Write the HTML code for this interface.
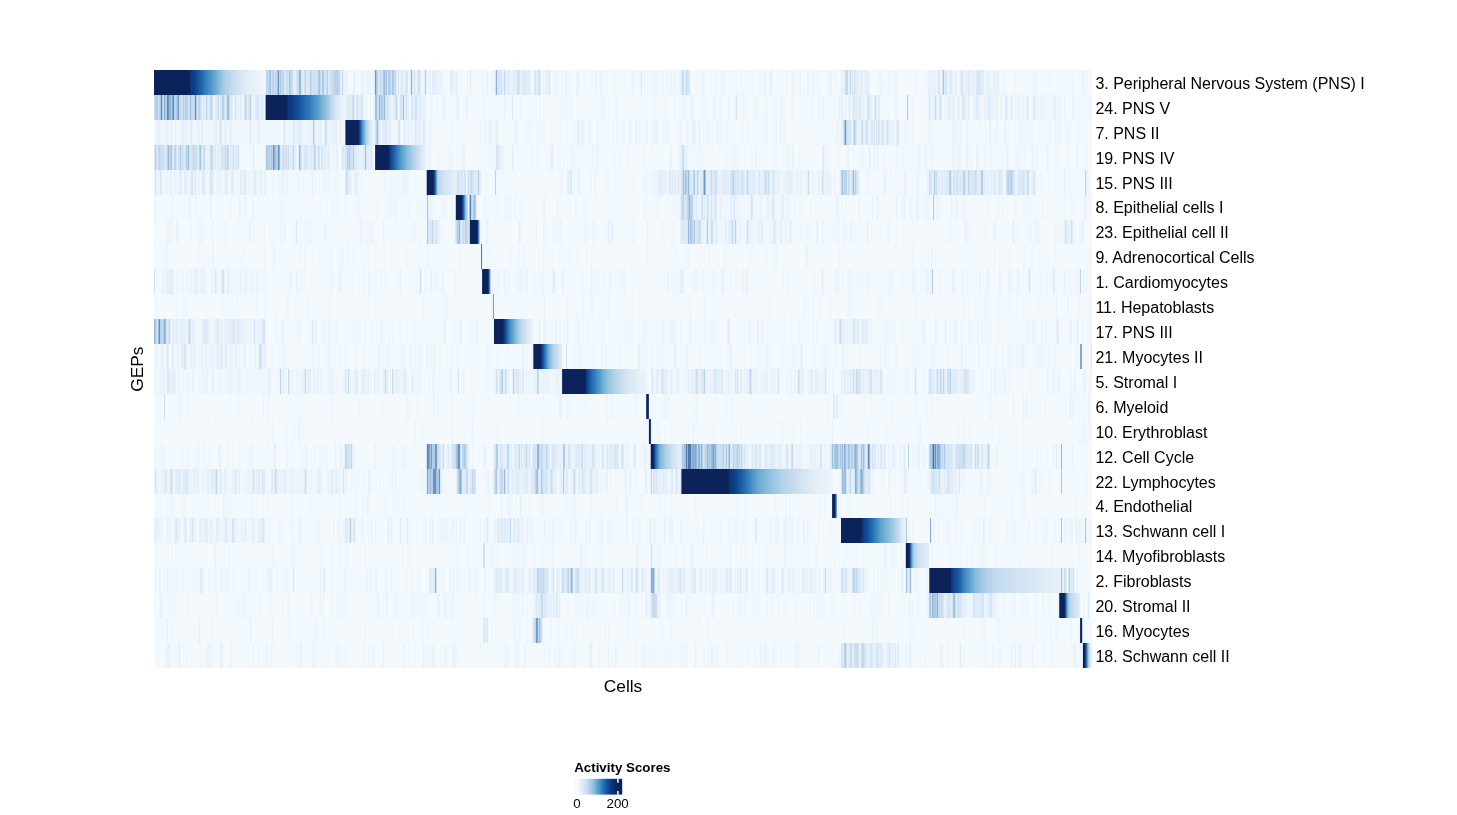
<!DOCTYPE html>
<html><head><meta charset="utf-8"><style>
html,body{margin:0;padding:0;background:#fff;width:1457px;height:815px;overflow:hidden}
svg{position:absolute;left:0;top:0;font-family:"Liberation Sans",sans-serif;will-change:transform}
</style></head><body>
<svg width="1457" height="815" viewBox="0 0 1457 815">
<g transform="translate(154 70)"><rect width="938" height="598" fill="#f4f9fe"/><g stroke-width="25"><path stroke="#eff6fc" stroke-dasharray="0 193 2 1 3 2 3 6 1 1 1 3 2 1 1 34 2 13 1 3 2 2 1 10 5 2 1 4 1 2 1 2 2 7 1 1 1 3 1 5 6 1 2 1 1 1 1 37 1 1 1 7 2 1 1 8 3 1 3 2 1 4 3 1 1 7 1 3 2 1 1 3 3 2 1 1 1 1 1 1 2 2 1 1 1 4 2 1 1 8 1 4 3 1 1 4 1 1 1 1 4 1 2 2 5 1 3 1 1 1 1 2 2 1 2 1 3 1 1 1 1 11 2 3 2 3 3 1 1 5 2 3 3 2 4 1 1 2 1 1 2 3 2 4 2 3 2 1 1 1 3 3 4 2 1 1 2 5 1 7 2 3 3 2 2 1 3 3 1 9 2 1 1 1 1 1 3 7 4 3 3 1 1 2 1 37 3 1 1 4 8 1 1 4 2 4 1 7 1 1 1 7 1 1 1 8 1 3 2 6 1 4 2 2 3 14 1 9 2 4 1 1 1 3 1 2 1 2 2 1 1 8 2 10 1 3 3 1 2 1 1 9 4 3 1 1 1 3 1 1 1 4 1 3 4 4 1 1 1 1 5 1 1 2000" d="M0 12.5h938"/><path stroke="#eaf3fb" stroke-dasharray="0 190 2 15 1 1 1 3 3 2 1 24 1 1 2 2 1 12 1 4 2 6 2 5 1 1 3 9 1 1 1 2 1 11 1 24 1 16 1 1 2 7 1 22 1 1 1 4 1 5 1 8 2 9 2 18 1 3 1 13 1 17 1 23 1 14 1 3 1 3 2 16 1 26 1 39 1 4 1 22 1 7 1 6 2 4 1 5 1 11 1 10 1 15 2 2 3 4 1 11 1 13 1 1 1 18 1 13 1 1 1 1 1 2 1 9 1 1 1 2 1 3 1 6 2 1 1 3 1 1 1 2 1 10 1 2 1 1 1 1 2 2 1 6 1 28 1 2 1 2000" d="M0 12.5h938"/><path stroke="#e6f0fa" stroke-dasharray="0 140 2 11 1 33 1 4 1 6 2 7 1 33 1 7 1 8 1 1 1 4 1 3 1 1 1 8 1 1 1 3 1 11 1 33 1 6 1 7 1 3 2 2 1 4 1 5 1 5 1 2 1 5 1 3 1 5 3 29 1 83 1 40 1 66 2 58 1 10 1 1 2 3 1 2 1 4 1 3 1 4 1 2 1 59 2 1 1 1 1 1 1 29 1 1 1 3 1 9 1 1 1 3 2 93 1 2000" d="M0 12.5h938"/><path stroke="#e1edf8" stroke-dasharray="0 149 1 36 1 2 1 58 1 29 3 21 1 13 1 32 1 1 1 8 1 1 1 8 1 2 1 155 1 164 1 3 1 12 2 76 1 6 1 3 1 4 1 8 1 3 1 21 1 2 1 2000" d="M0 12.5h938"/><path stroke="#dceaf6" stroke-dasharray="0 130 2 7 1 8 1 25 1 45 1 4 1 25 1 4 1 1 1 4 1 33 1 56 1 4 1 8 3 4 1 4 1 2 1 11 1 91 1 39 1 3 1 3 1 162 1 2 1 1 1 3 1 99 1 6 1 8 1 2 1 2000" d="M0 12.5h938"/><path stroke="#d8e7f5" stroke-dasharray="0 134 1 7 1 9 1 1 1 16 1 3 1 48 1 3 1 15 1 7 2 90 3 18 1 6 1 11 1 399 2 5 1 16 1 13 1 2 1 2 1 2000" d="M0 12.5h938"/><path stroke="#d4e4f4" stroke-dasharray="0 138 1 8 1 7 1 3 1 3 1 12 1 1 1 54 1 13 1 12 1 3 1 76 1 39 1 151 2 165 1 87 1 3 1 3 1 27 1 2000" d="M0 12.5h938"/><path stroke="#cfe1f2" stroke-dasharray="0 117 1 2 1 22 1 6 1 7 1 2 2 4 1 2 1 56 1 9 1 105 1 3 1 15 1 165 1 2000" d="M0 12.5h938"/><path stroke="#cadef0" stroke-dasharray="0 132 2 26 1 5 1 5 1 15 1 51 1 24 1 98 1 20 1 305 2 2000" d="M0 12.5h938"/><path stroke="#c4daee" stroke-dasharray="0 122 1 4 1 16 1 12 1 19 1 6 1 165 1 177 1 3 1 2000" d="M0 12.5h938"/><path stroke="#bfd7ed" stroke-dasharray="0 113 2 3 1 2 1 3 1 2 1 8 1 41 1 5 1 37 1 7 1 9 1 451 1 2 1 2000" d="M0 12.5h938"/><path stroke="#bad4eb" stroke-dasharray="0 112 1 16 1 6 1 14 1 28 3 43 1 9 1 2000" d="M0 12.5h938"/><path stroke="#b5d0e9" stroke-dasharray="0 119 1 36 1 12 1 3 1 60 1 36 1 2000" d="M0 12.5h938"/><path stroke="#afcce7" stroke-dasharray="0 115 1 10 1 56 1 51 1 3 1 2000" d="M0 12.5h938"/><path stroke="#aac8e4" stroke-dasharray="0 164 1 3 1 60 1 8 1 2000" d="M0 12.5h938"/><path stroke="#a5c5e2" stroke-dasharray="0 123 1 11 1 29 1 56 1 566 1 2000" d="M0 12.5h938"/><path stroke="#9fc1e0" stroke-dasharray="0 116 1 115 1 2000" d="M0 12.5h938"/><path stroke="#9abdde" stroke-dasharray="0 146 1 83 1 2000" d="M0 12.5h938"/><path stroke="#94b8db" stroke-dasharray="0 145 1 2000" d="M0 12.5h938"/><path stroke="#8fb3d8" stroke-dasharray="0 257 1 84 1 2000" d="M0 12.5h938"/><path stroke="#739ac7" stroke-dasharray="0 221 1 2000" d="M0 12.5h938"/><path stroke="#6e95c2" stroke-dasharray="0 124 1 2000" d="M0 12.5h938"/></g><linearGradient id="d0"><stop offset="0" stop-color="#0b225b"/><stop offset="0.01" stop-color="#0b225b"/><stop offset="0.03" stop-color="#0b225b"/><stop offset="0.04" stop-color="#0b225b"/><stop offset="0.05" stop-color="#0b225b"/><stop offset="0.07" stop-color="#0b225b"/><stop offset="0.08" stop-color="#0b225b"/><stop offset="0.09" stop-color="#0b225b"/><stop offset="0.11" stop-color="#0b225b"/><stop offset="0.12" stop-color="#0b225b"/><stop offset="0.13" stop-color="#0b225b"/><stop offset="0.15" stop-color="#0b225b"/><stop offset="0.16" stop-color="#0b225b"/><stop offset="0.17" stop-color="#0b225b"/><stop offset="0.19" stop-color="#0b225b"/><stop offset="0.2" stop-color="#0b225b"/><stop offset="0.21" stop-color="#0b225b"/><stop offset="0.23" stop-color="#0b225b"/><stop offset="0.24" stop-color="#0b225b"/><stop offset="0.25" stop-color="#0b225b"/><stop offset="0.27" stop-color="#0b225b"/><stop offset="0.28" stop-color="#0b225b"/><stop offset="0.29" stop-color="#0b225b"/><stop offset="0.31" stop-color="#0b225b"/><stop offset="0.32" stop-color="#0b225b"/><stop offset="0.33" stop-color="#0c387f"/><stop offset="0.35" stop-color="#0c3a82"/><stop offset="0.36" stop-color="#0d3c85"/><stop offset="0.37" stop-color="#0f448f"/><stop offset="0.39" stop-color="#144d98"/><stop offset="0.4" stop-color="#1856a0"/><stop offset="0.41" stop-color="#1c5da7"/><stop offset="0.43" stop-color="#2266ad"/><stop offset="0.44" stop-color="#296fb3"/><stop offset="0.45" stop-color="#2f78b9"/><stop offset="0.47" stop-color="#3580be"/><stop offset="0.48" stop-color="#3c86c1"/><stop offset="0.49" stop-color="#448dc4"/><stop offset="0.51" stop-color="#4c93c7"/><stop offset="0.52" stop-color="#549aca"/><stop offset="0.53" stop-color="#5ca1cd"/><stop offset="0.55" stop-color="#67a7d1"/><stop offset="0.56" stop-color="#72aed4"/><stop offset="0.57" stop-color="#7db5d8"/><stop offset="0.59" stop-color="#88bcdc"/><stop offset="0.6" stop-color="#92c2df"/><stop offset="0.61" stop-color="#9cc6e2"/><stop offset="0.63" stop-color="#a5cbe5"/><stop offset="0.64" stop-color="#adcfe7"/><stop offset="0.65" stop-color="#b3d2e9"/><stop offset="0.67" stop-color="#b8d4eb"/><stop offset="0.68" stop-color="#bcd7ec"/><stop offset="0.69" stop-color="#c0d9ed"/><stop offset="0.71" stop-color="#c4dbef"/><stop offset="0.72" stop-color="#c8ddf0"/><stop offset="0.73" stop-color="#ccdff1"/><stop offset="0.75" stop-color="#d0e2f2"/><stop offset="0.76" stop-color="#d3e4f3"/><stop offset="0.77" stop-color="#d6e5f4"/><stop offset="0.79" stop-color="#d8e7f5"/><stop offset="0.8" stop-color="#dbe9f6"/><stop offset="0.81" stop-color="#ddeaf6"/><stop offset="0.83" stop-color="#e0ecf7"/><stop offset="0.84" stop-color="#e3eef8"/><stop offset="0.85" stop-color="#e4eff8"/><stop offset="0.87" stop-color="#e5eff9"/><stop offset="0.88" stop-color="#e6f0f9"/><stop offset="0.89" stop-color="#e7f1f9"/><stop offset="0.91" stop-color="#e8f1fa"/><stop offset="0.92" stop-color="#e9f2fa"/><stop offset="0.93" stop-color="#eaf3fa"/><stop offset="0.95" stop-color="#ecf3fb"/><stop offset="0.96" stop-color="#edf4fb"/><stop offset="0.97" stop-color="#eff5fc"/><stop offset="0.99" stop-color="#f1f7fd"/><stop offset="1" stop-color="#f3f8fd"/></linearGradient><rect x="0" y="0" width="111.6" height="25" fill="url(#d0)"/><g stroke-width="25"><path stroke="#eff6fc" stroke-dasharray="0 79 1 8 1 21 2 98 4 2 1 2 1 24 1 10 2 15 1 3 3 4 1 3 1 3 1 2 1 1 1 2 2 1 1 2 1 3 1 1 1 1 2 5 1 9 1 4 1 2 3 2 3 3 1 1 1 3 1 1 1 1 1 1 1 3 3 17 2 2 2 2 1 6 2 4 8 1 4 5 1 6 1 3 1 4 2 4 3 5 2 4 4 6 1 7 1 8 1 2 1 2 1 4 1 1 2 4 1 4 3 5 2 4 2 1 1 1 3 3 1 1 3 5 3 2 2 1 2 2 1 1 1 1 1 1 2 1 2 4 1 2 2 1 2 4 1 1 1 1 2 1 1 6 3 1 3 3 1 1 1 1 1 4 2 1 1 4 1 1 1 1 1 7 1 11 1 5 1 1 1 1 1 2 5 2 2 1 1 3 1 1 6 1 1 2 2 1 1 18 1 6 2 6 1 3 1 1 4 4 1 1 2 8 1 1 1 1 1 4 1 7 1 8 1 9 1 1 1 1 1 4 1 2 3 3 2 4 1 6 1 7 1 1 1 2 1 7 1 3 1 1 1 1 1 1 1 3 2 3 5 2 2 2 2 3 1 2 1 3 1 1 3 1 1 1 1 1 3 1 2 5 2 1 2 3 1 8 1 2 3 5 1 3 1 1 1 2000" d="M0 37.5h938"/><path stroke="#eaf3fb" stroke-dasharray="0 60 1 19 1 2 2 4 1 8 3 8 1 91 1 7 1 27 2 6 1 19 1 1 2 2 1 16 3 13 1 7 1 16 1 20 1 31 1 66 1 79 1 29 1 1 1 4 1 7 2 5 1 1 1 4 1 13 1 9 1 7 1 6 1 9 1 1 1 17 1 11 1 17 2 2 1 2 1 1 1 1 1 5 1 3 1 1 1 1 1 4 1 23 1 16 1 15 1 1 2 1 1 3 2 6 1 1 1 2 1 1 1 14 1 1 1 2 1 6 2 3 1 2 1 4 2 1 3 9 1 2 1 7 1 3 2 2 1 1 1 6 1 1 1 5 1 1 1 3 1 2 3 1 1 7 1 7 2 16 1 2000" d="M0 37.5h938"/><path stroke="#e6f0fa" stroke-dasharray="0 48 1 1 1 20 1 13 1 1 1 17 1 1 1 83 2 1 1 5 1 4 1 14 1 15 1 2 1 11 1 7 1 3 2 4 2 32 1 233 1 147 1 14 1 1 1 4 1 1 1 6 1 5 3 55 1 1 1 11 1 8 3 5 1 8 2 1 1 7 1 3 1 1 1 9 1 3 1 6 1 6 1 21 1 13 1 3 1 2000" d="M0 37.5h938"/><path stroke="#e1edf8" stroke-dasharray="0 54 1 4 1 1 1 3 1 10 1 1 1 3 1 10 1 3 1 8 1 89 2 6 1 30 1 17 2 2 1 2 1 97 1 336 1 5 1 23 1 59 1 1 1 7 1 13 1 4 1 9 1 11 1 20 1 21 1 2000" d="M0 37.5h938"/><path stroke="#dceaf6" stroke-dasharray="0 49 1 1 1 1 1 8 1 4 1 18 1 14 1 1 1 4 1 93 1 3 1 27 1 5 1 2 1 6 1 15 1 436 1 1 2 6 1 1 1 4 1 78 1 8 1 13 1 2000" d="M0 37.5h938"/><path stroke="#d8e7f5" stroke-dasharray="0 47 1 7 1 2 1 4 1 2 1 10 1 12 1 3 1 7 1 1 1 88 1 1 1 11 2 23 1 8 1 5 1 527 1 34 1 23 1 17 1 20 1 6 1 2000" d="M0 37.5h938"/><path stroke="#d4e4f4" stroke-dasharray="0 27 1 7 1 7 1 26 1 152 1 9 1 14 1 13 1 319 1 2000" d="M0 37.5h938"/><path stroke="#cfe1f2" stroke-dasharray="0 4 1 4 1 24 1 37 1 8 1 10 1 2 1 102 1 4 1 42 1 5 1 5 1 2 1 437 1 21 1 64 1 2000" d="M0 37.5h938"/><path stroke="#cadef0" stroke-dasharray="0 0 1 27 1 1 1 6 2 7 1 17 1 166 1 482 1 66 1 2000" d="M0 37.5h938"/><path stroke="#c4daee" stroke-dasharray="0 21 1 4 1 29 1 142 1 24 1 2000" d="M0 37.5h938"/><path stroke="#bfd7ed" stroke-dasharray="0 25 1 13 2 3 1 7 1 22 1 15 1 137 1 12 1 2000" d="M0 37.5h938"/><path stroke="#bad4eb" stroke-dasharray="0 1 1 3 1 27 1 11 1 11 1 11 1 26 1 129 1 2000" d="M0 37.5h938"/><path stroke="#b5d0e9" stroke-dasharray="0 12 1 7 1 1 1 6 1 1 2 9 1 25 1 2000" d="M0 37.5h938"/><path stroke="#afcce7" stroke-dasharray="0 2 2 4 1 2 1 5 1 209 2 524 1 2000" d="M0 37.5h938"/><path stroke="#aac8e4" stroke-dasharray="0 74 1 2000" d="M0 37.5h938"/><path stroke="#a5c5e2" stroke-dasharray="0 6 1 214 1 27 1 2000" d="M0 37.5h938"/><path stroke="#9fc1e0" stroke-dasharray="0 222 1 7 1 2000" d="M0 37.5h938"/><path stroke="#9abdde" stroke-dasharray="0 15 1 57 1 2000" d="M0 37.5h938"/><path stroke="#94b8db" stroke-dasharray="0 23 1 201 1 2000" d="M0 37.5h938"/><path stroke="#8fb3d8" stroke-dasharray="0 16 1 19 1 2000" d="M0 37.5h938"/><path stroke="#83a9d2" stroke-dasharray="0 10 1 7 1 2000" d="M0 37.5h938"/><path stroke="#7ea4cf" stroke-dasharray="0 24 1 2000" d="M0 37.5h938"/><path stroke="#6e95c2" stroke-dasharray="0 14 1 2000" d="M0 37.5h938"/><path stroke="#6990be" stroke-dasharray="0 19 1 2000" d="M0 37.5h938"/><path stroke="#648ab9" stroke-dasharray="0 7 1 33 1 2000" d="M0 37.5h938"/><path stroke="#5f85b4" stroke-dasharray="0 13 1 2000" d="M0 37.5h938"/></g><linearGradient id="d1"><stop offset="0" stop-color="#0b225b"/><stop offset="0.02" stop-color="#0b225b"/><stop offset="0.04" stop-color="#0b225b"/><stop offset="0.06" stop-color="#0b225b"/><stop offset="0.07" stop-color="#0b225b"/><stop offset="0.09" stop-color="#0b225b"/><stop offset="0.11" stop-color="#0b225b"/><stop offset="0.13" stop-color="#0b225b"/><stop offset="0.15" stop-color="#0b225b"/><stop offset="0.17" stop-color="#0b225b"/><stop offset="0.19" stop-color="#0b225b"/><stop offset="0.2" stop-color="#0b225b"/><stop offset="0.22" stop-color="#0b225b"/><stop offset="0.24" stop-color="#0b225b"/><stop offset="0.26" stop-color="#0b225b"/><stop offset="0.28" stop-color="#0c377d"/><stop offset="0.3" stop-color="#0c3980"/><stop offset="0.31" stop-color="#0d3b84"/><stop offset="0.33" stop-color="#0d3e88"/><stop offset="0.35" stop-color="#0f438d"/><stop offset="0.37" stop-color="#114892"/><stop offset="0.39" stop-color="#134d97"/><stop offset="0.41" stop-color="#16529c"/><stop offset="0.43" stop-color="#1857a1"/><stop offset="0.44" stop-color="#1a5ba5"/><stop offset="0.46" stop-color="#1e60a9"/><stop offset="0.48" stop-color="#2266ac"/><stop offset="0.5" stop-color="#266cb0"/><stop offset="0.52" stop-color="#2a71b4"/><stop offset="0.54" stop-color="#2e77b8"/><stop offset="0.56" stop-color="#337dbc"/><stop offset="0.57" stop-color="#3883bf"/><stop offset="0.59" stop-color="#3f89c2"/><stop offset="0.61" stop-color="#478fc5"/><stop offset="0.63" stop-color="#4e95c8"/><stop offset="0.65" stop-color="#569bcb"/><stop offset="0.67" stop-color="#5ea2ce"/><stop offset="0.69" stop-color="#68a8d1"/><stop offset="0.7" stop-color="#72aed4"/><stop offset="0.72" stop-color="#7db5d8"/><stop offset="0.74" stop-color="#87bbdb"/><stop offset="0.76" stop-color="#92c1df"/><stop offset="0.78" stop-color="#9ec8e3"/><stop offset="0.8" stop-color="#aacee7"/><stop offset="0.81" stop-color="#b6d4ea"/><stop offset="0.83" stop-color="#bed8ed"/><stop offset="0.85" stop-color="#c8ddf0"/><stop offset="0.87" stop-color="#d1e2f3"/><stop offset="0.89" stop-color="#d8e7f5"/><stop offset="0.91" stop-color="#dceaf6"/><stop offset="0.93" stop-color="#e0ecf7"/><stop offset="0.94" stop-color="#e4eff8"/><stop offset="0.96" stop-color="#e7f1f9"/><stop offset="0.98" stop-color="#ebf3fb"/><stop offset="1" stop-color="#f0f6fc"/></linearGradient><rect x="111.6" y="25" width="79.8" height="25" fill="url(#d1)"/><g stroke-width="25"><path stroke="#eff6fc" stroke-dasharray="0 1 1 4 1 1 2 4 2 2 1 1 1 1 3 1 1 7 2 3 4 3 1 2 5 1 4 1 1 3 1 3 2 3 2 3 2 1 7 1 6 3 5 2 1 1 5 2 1 1 6 1 4 1 1 3 4 1 2 10 5 2 1 5 1 6 1 4 1 1 1 3 1 2 1 1 1 1 2 1 1 47 2 1 2 4 2 3 1 2 1 1 1 1 1 11 2 1 3 1 2 3 1 5 2 2 1 3 2 3 2 1 3 3 1 3 2 8 2 1 3 1 3 2 2 5 2 2 2 1 1 2 1 5 1 1 1 1 1 1 1 3 7 1 2 2 6 1 3 3 1 1 1 2 2 4 3 4 1 2 2 1 2 1 1 3 1 1 1 1 1 3 1 1 2 4 1 1 2 2 1 3 3 4 2 1 1 1 1 1 2 1 1 7 1 5 4 3 3 4 2 1 1 8 4 1 1 6 1 2 2 1 2 3 1 1 2 5 1 2 1 1 1 2 3 1 1 1 1 1 2 2 2 2 1 1 3 2 3 10 1 2 2 2 1 1 2 4 2 9 1 1 1 5 1 1 1 1 1 1 1 1 1 1 2 8 1 2 1 8 1 2 1 3 2 1 2 2 2 3 1 5 1 1 2 1 1 1 1 1 3 16 1 35 2 7 1 1 3 2 1 1 2 6 1 2 1 3 2 1 1 1 2 3 1 2 2 3 2 1 1 2 1 2 2 1 1 1 1 1 1 8 2 5 1 1 2 3 3 1 1 2 1 3 1 1 2 3 1 1 1 1 1 1 1 2 1 2 2 2 1 2 1 1 2 1 2 1 4 1 1 3 3 2 2 2 6 1 1 1 1 1 1 5 4 3 1 5 2 2 3 1 2 3 1 2000" d="M0 62.5h938"/><path stroke="#eaf3fb" stroke-dasharray="0 2 2 1 1 4 3 3 1 10 2 1 1 1 2 2 1 1 1 4 1 1 1 1 1 6 1 8 1 6 1 1 1 2 1 1 1 2 1 16 1 5 1 9 1 8 1 13 1 11 1 5 2 1 1 9 1 5 1 1 1 2 1 48 1 12 1 2 1 2 1 2 1 3 1 2 1 3 1 3 1 1 3 8 1 49 1 13 1 21 1 24 1 34 1 1 1 9 1 7 1 19 1 4 1 1 1 4 2 4 1 11 1 5 1 1 3 9 1 24 2 12 1 1 1 9 1 1 1 45 1 9 1 3 1 4 1 50 1 1 1 18 1 6 1 4 2 9 1 3 1 4 2 1 2 5 1 4 1 47 2 2 1 3 1 6 1 21 1 6 1 8 1 14 1 4 1 2 1 26 1 3 1 8 1 2000" d="M0 62.5h938"/><path stroke="#e6f0fa" stroke-dasharray="0 4 1 2 1 5 1 3 1 3 1 7 1 1 1 27 1 1 2 2 1 1 1 8 1 18 1 10 1 24 1 8 4 1 1 1 1 13 1 1 3 11 1 1 1 6 1 39 1 1 1 1 1 4 1 1 1 12 2 2 1 3 1 3 1 68 1 4 1 5 2 17 1 65 1 1 1 52 1 43 1 6 1 11 1 17 1 134 1 6 2 2 1 4 1 4 1 1 1 9 1 5 1 4 1 32 1 60 1 28 1 2 1 2000" d="M0 62.5h938"/><path stroke="#e1edf8" stroke-dasharray="0 44 1 26 1 24 1 7 1 24 2 27 1 22 2 42 1 6 3 1 1 26 1 1 1 4 1 64 1 204 1 147 1 8 1 25 1 3 1 4 1 1 1 9 1 2000" d="M0 62.5h938"/><path stroke="#dceaf6" stroke-dasharray="0 48 1 90 1 4 1 1 1 19 1 3 1 58 1 39 1 154 1 286 1 5 2 10 1 2000" d="M0 62.5h938"/><path stroke="#d8e7f5" stroke-dasharray="0 37 1 122 1 10 1 72 1 16 1 434 1 5 1 10 1 6 1 1 1 2 1 2000" d="M0 62.5h938"/><path stroke="#d4e4f4" stroke-dasharray="0 231 1 13 1 443 1 3 3 3 1 7 1 4 1 11 1 18 1 2000" d="M0 62.5h938"/><path stroke="#cfe1f2" stroke-dasharray="0 66 1 157 1 503 1 2000" d="M0 62.5h938"/><path stroke="#cadef0" stroke-dasharray="0 172 1 48 1 486 1 24 1 2000" d="M0 62.5h938"/><path stroke="#c4daee" stroke-dasharray="0 701 1 2000" d="M0 62.5h938"/><path stroke="#bfd7ed" stroke-dasharray="0 692 1 2000" d="M0 62.5h938"/><path stroke="#bad4eb" stroke-dasharray="0 222 1 2000" d="M0 62.5h938"/><path stroke="#b5d0e9" stroke-dasharray="0 159 1 2000" d="M0 62.5h938"/><path stroke="#afcce7" stroke-dasharray="0 700 1 2000" d="M0 62.5h938"/><path stroke="#aac8e4" stroke-dasharray="0 690 1 2000" d="M0 62.5h938"/><path stroke="#9abdde" stroke-dasharray="0 223 1 2000" d="M0 62.5h938"/><path stroke="#739ac7" stroke-dasharray="0 691 1 2000" d="M0 62.5h938"/></g><linearGradient id="d2"><stop offset="0" stop-color="#0b225b"/><stop offset="0.05" stop-color="#0b225b"/><stop offset="0.1" stop-color="#0b225b"/><stop offset="0.15" stop-color="#0b225b"/><stop offset="0.2" stop-color="#0b225b"/><stop offset="0.25" stop-color="#0b225b"/><stop offset="0.3" stop-color="#0b225b"/><stop offset="0.35" stop-color="#0b225b"/><stop offset="0.4" stop-color="#0b225b"/><stop offset="0.45" stop-color="#0b2b6a"/><stop offset="0.5" stop-color="#15519b"/><stop offset="0.55" stop-color="#3782bf"/><stop offset="0.6" stop-color="#5da1cd"/><stop offset="0.65" stop-color="#83b9da"/><stop offset="0.7" stop-color="#a8cce6"/><stop offset="0.75" stop-color="#c3daee"/><stop offset="0.8" stop-color="#d1e2f3"/><stop offset="0.85" stop-color="#dceaf6"/><stop offset="0.9" stop-color="#e7f0f9"/><stop offset="0.95" stop-color="#eaf2fa"/><stop offset="1" stop-color="#eef5fc"/></linearGradient><rect x="191.4" y="50" width="29.7" height="25" fill="url(#d2)"/><g stroke-width="25"><path stroke="#eff6fc" stroke-dasharray="0 85 1 5 1 4 1 1 1 1 1 1 1 1 1 1 2 68 3 1 2 2 1 88 2 2 1 4 3 4 1 4 2 1 2 3 1 3 3 7 1 2 1 10 1 3 2 1 5 6 1 3 1 3 2 5 2 7 1 1 1 2 3 2 2 9 1 1 2 2 1 1 1 1 4 2 2 2 1 2 3 1 5 2 2 5 1 2 2 1 3 1 2 5 1 7 2 3 5 3 4 13 3 6 2 15 1 1 2 4 2 9 1 2 2 1 2 1 8 2 1 5 1 5 1 5 1 1 1 1 2 1 2 1 5 4 2 3 4 2 1 1 1 1 1 1 1 10 3 1 1 6 1 1 1 1 1 1 1 1 1 1 1 4 2 6 1 1 1 8 1 7 1 4 1 4 1 2 3 4 2 5 3 1 1 2 5 1 1 2 1 1 1 2 1 1 2 1 1 2 1 1 4 2 1 1 1 3 2 5 3 3 1 1 1 1 1 2 1 1 1 1 1 4 1 2 1 1 3 20 1 1 3 3 2 1 1 2 1 1 1 1 3 5 2 10 2 1 1 4 1 2 3 1 1 2 2 4 3 1 6 1 1 4 2 1 5 3 1 4 1 1 2 3 3 1 2 8 2 7 1 1 1 6 3 3 1 2000" d="M0 87.5h938"/><path stroke="#eaf3fb" stroke-dasharray="0 52 1 9 1 79 1 11 1 11 1 2 1 2 1 2 1 11 1 15 1 4 1 6 1 2 1 56 2 19 1 13 1 36 1 1 1 9 1 24 1 34 1 19 1 85 2 4 1 1 1 46 1 21 1 31 1 33 1 1 1 1 2 19 2 25 1 22 1 27 2 5 1 24 3 16 2 6 1 21 2 16 1 2000" d="M0 87.5h938"/><path stroke="#e6f0fa" stroke-dasharray="0 53 3 7 1 1 2 10 1 2 2 17 1 11 1 29 1 6 2 5 1 15 1 1 1 5 1 2 2 6 1 14 3 5 1 2 1 92 1 34 1 1 1 50 1 45 1 72 1 13 1 1 1 105 1 76 1 7 1 40 1 34 1 13 1 49 1 14 1 14 1 29 1 2000" d="M0 87.5h938"/><path stroke="#e1edf8" stroke-dasharray="0 3 1 19 1 24 1 2 1 7 2 14 2 1 1 48 1 7 3 2 1 3 1 11 1 1 2 2 2 38 1 1 1 4 1 135 1 12 1 39 1 2000" d="M0 87.5h938"/><path stroke="#dceaf6" stroke-dasharray="0 0 1 11 1 6 1 10 1 5 1 6 2 16 1 2 1 4 2 1 1 10 1 46 1 7 1 8 1 4 1 4 1 9 1 2 1 3 1 14 1 10 2 12 1 312 1 2000" d="M0 87.5h938"/><path stroke="#d8e7f5" stroke-dasharray="0 10 2 6 1 8 1 1 1 17 1 19 1 14 1 1 1 41 1 1 1 4 1 16 2 1 1 14 1 23 1 17 1 131 1 185 1 140 1 2000" d="M0 87.5h938"/><path stroke="#d4e4f4" stroke-dasharray="0 22 1 1 1 6 1 5 1 3 1 90 1 32 1 22 1 2 1 5 1 14 1 4 1 2000" d="M0 87.5h938"/><path stroke="#cfe1f2" stroke-dasharray="0 8 1 26 1 2 1 17 1 11 1 92 1 2 1 33 1 144 1 2000" d="M0 87.5h938"/><path stroke="#cadef0" stroke-dasharray="0 2 1 3 2 1 1 15 1 14 1 8 2 7 1 15 1 4 1 51 1 2 1 2000" d="M0 87.5h938"/><path stroke="#c4daee" stroke-dasharray="0 4 1 10 1 4 1 7 1 13 1 86 1 64 1 334 1 2000" d="M0 87.5h938"/><path stroke="#bfd7ed" stroke-dasharray="0 5 1 27 1 37 1 42 1 1 1 22 1 56 1 2000" d="M0 87.5h938"/><path stroke="#bad4eb" stroke-dasharray="0 1 1 14 1 22 1 5 1 11 1 15 1 44 1 3 1 23 1 48 1 2000" d="M0 87.5h938"/><path stroke="#b5d0e9" stroke-dasharray="0 13 1 7 1 10 1 127 1 32 1 5 1 2000" d="M0 87.5h938"/><path stroke="#afcce7" stroke-dasharray="0 26 1 86 1 1 1 7 1 2000" d="M0 87.5h938"/><path stroke="#aac8e4" stroke-dasharray="0 112 1 4 1 2000" d="M0 87.5h938"/><path stroke="#a5c5e2" stroke-dasharray="0 17 1 28 1 74 1 89 1 2000" d="M0 87.5h938"/><path stroke="#9abdde" stroke-dasharray="0 34 1 110 1 2000" d="M0 87.5h938"/><path stroke="#94b8db" stroke-dasharray="0 14 1 2000" d="M0 87.5h938"/><path stroke="#8fb3d8" stroke-dasharray="0 120 1 4 1 2000" d="M0 87.5h938"/><path stroke="#6e95c2" stroke-dasharray="0 119 1 4 1 2000" d="M0 87.5h938"/></g><linearGradient id="d3"><stop offset="0" stop-color="#0b225b"/><stop offset="0.03" stop-color="#0b225b"/><stop offset="0.06" stop-color="#0b225b"/><stop offset="0.09" stop-color="#0b225b"/><stop offset="0.11" stop-color="#0b225b"/><stop offset="0.14" stop-color="#0b225b"/><stop offset="0.17" stop-color="#0b225b"/><stop offset="0.2" stop-color="#0b225b"/><stop offset="0.23" stop-color="#0b225b"/><stop offset="0.26" stop-color="#0b2662"/><stop offset="0.29" stop-color="#0c377e"/><stop offset="0.31" stop-color="#124a94"/><stop offset="0.34" stop-color="#17549f"/><stop offset="0.37" stop-color="#1e61a9"/><stop offset="0.4" stop-color="#296fb3"/><stop offset="0.43" stop-color="#337ebc"/><stop offset="0.46" stop-color="#418ac3"/><stop offset="0.49" stop-color="#4d95c8"/><stop offset="0.51" stop-color="#579dcc"/><stop offset="0.54" stop-color="#63a5d0"/><stop offset="0.57" stop-color="#70add4"/><stop offset="0.6" stop-color="#7db5d8"/><stop offset="0.63" stop-color="#89bddc"/><stop offset="0.66" stop-color="#94c2df"/><stop offset="0.69" stop-color="#9dc7e2"/><stop offset="0.71" stop-color="#a7cce5"/><stop offset="0.74" stop-color="#b0d1e8"/><stop offset="0.77" stop-color="#b9d5eb"/><stop offset="0.8" stop-color="#c1d9ee"/><stop offset="0.83" stop-color="#c8ddf0"/><stop offset="0.86" stop-color="#d0e2f2"/><stop offset="0.89" stop-color="#d6e5f4"/><stop offset="0.91" stop-color="#dbe9f6"/><stop offset="0.94" stop-color="#e1ecf7"/><stop offset="0.97" stop-color="#e6f0f9"/><stop offset="1" stop-color="#eaf2fa"/></linearGradient><rect x="221.1" y="75" width="51.5" height="25" fill="url(#d3)"/><g stroke-width="25"><path stroke="#eff6fc" stroke-dasharray="0 3 1 4 4 2 1 3 2 2 1 1 1 3 2 4 1 8 1 2 2 4 3 5 1 7 2 4 3 3 6 7 2 1 2 5 3 2 2 2 1 2 1 1 2 1 1 2 5 2 2 1 1 2 1 1 3 1 3 4 2 4 1 1 1 1 1 1 2 2 1 4 2 2 1 1 1 1 5 1 2 4 1 7 2 4 2 1 2 1 2 9 1 7 4 3 1 1 1 1 2 1 6 1 1 1 3 5 2 4 1 60 1 3 4 2 1 2 1 1 3 1 1 2 1 2 3 1 2 2 2 9 1 8 1 3 2 13 1 6 1 1 1 1 1 1 1 5 3 2 1 2 1 1 1 7 2 2 1 8 1 1 4 1 1 4 1 2 1 3 1 6 1 3 2 7 6 1 4 2 2 10 1 112 4 1 1 8 1 3 1 3 4 4 2 2 4 2 1 5 1 1 1 2 1 1 1 1 1 3 1 25 1 1 1 3 1 1 1 8 2 2 1 8 1 3 1 1 2 9 1 2 2 1 2 1 2 3 1 76 2 35 3 5 1 1 1 2 3 2 2 3 1 1 1 2 3 1 2 2 1 1 1 2 2 5 2 2000" d="M0 112.5h938"/><path stroke="#eaf3fb" stroke-dasharray="0 0 1 4 1 6 2 1 1 1 1 3 1 1 1 1 1 1 1 3 1 1 1 1 2 2 1 2 1 1 1 5 1 4 1 6 4 1 1 3 1 1 1 15 1 2 1 2 1 2 2 2 1 7 1 8 1 9 1 15 1 23 1 2 1 2 1 7 1 13 1 2 1 2 1 33 1 11 1 62 1 94 1 7 1 8 1 16 1 18 1 38 2 3 1 2 1 3 2 1 1 4 1 2 1 3 1 37 2 1 1 5 1 28 2 12 1 5 2 1 1 4 1 3 1 3 2 1 2 2 3 4 1 5 2 7 1 2 2 3 2 3 1 24 1 8 1 15 2 5 1 12 3 10 1 9 2 14 1 45 2 1 1 3 1 8 1 9 3 11 3 55 1 2000" d="M0 112.5h938"/><path stroke="#e6f0fa" stroke-dasharray="0 2 1 1 1 11 1 3 1 19 1 4 1 5 1 6 1 7 1 3 1 6 1 10 1 11 1 6 1 20 1 3 1 25 1 32 1 2 1 1 1 4 1 100 1 10 1 8 1 90 1 11 1 77 1 5 2 6 1 5 1 1 1 19 1 7 1 12 1 1 1 5 2 15 1 5 1 3 1 2 1 1 1 1 1 8 1 3 1 2 1 7 2 2 1 6 1 9 1 1 1 8 2 112 1 5 3 11 1 26 1 5 4 6 1 1 2 27 1 5 1 2 1 28 1 21 1 2000" d="M0 112.5h938"/><path stroke="#e1edf8" stroke-dasharray="0 7 1 22 1 1 1 26 1 18 2 6 2 18 1 4 1 83 1 6 1 48 1 49 1 3 1 3 1 10 1 4 2 87 1 90 1 2 1 6 1 2 1 1 2 19 2 4 1 6 2 3 1 3 1 5 3 13 1 4 1 4 1 2 1 1 1 6 1 1 1 5 1 2 1 1 1 16 1 58 1 7 1 78 1 3 1 2 2 9 1 5 1 4 2 2 1 6 1 6 1 6 1 1 1 7 2 17 1 4 1 2000" d="M0 112.5h938"/><path stroke="#dceaf6" stroke-dasharray="0 26 1 14 1 6 1 23 1 17 2 9 1 206 1 6 1 100 2 88 1 9 1 7 1 11 2 8 1 1 1 7 1 1 1 13 1 9 1 3 2 1 1 6 1 2 1 35 1 33 1 3 1 12 1 6 1 85 1 8 1 3 3 9 2 2 1 9 1 5 1 1 1 2 1 16 1 17 1 2 1 2 1 8 2 2000" d="M0 112.5h938"/><path stroke="#d8e7f5" stroke-dasharray="0 1 1 4 1 30 2 10 1 6 1 249 2 13 1 1 1 214 1 13 1 8 1 14 1 3 1 2 1 8 1 1 1 10 1 4 1 1 2 5 1 77 1 5 1 73 1 19 1 1 1 6 1 4 1 8 1 19 1 11 1 7 1 7 1 2000" d="M0 112.5h938"/><path stroke="#d4e4f4" stroke-dasharray="0 57 1 245 1 6 2 6 2 208 1 15 1 32 1 3 1 2 1 117 1 73 1 23 1 1 2 13 1 1 1 25 1 13 1 5 1 2000" d="M0 112.5h938"/><path stroke="#cfe1f2" stroke-dasharray="0 193 1 333 1 32 1 107 1 26 1 4 1 74 1 5 1 40 1 46 1 4 1 2000" d="M0 112.5h938"/><path stroke="#cadef0" stroke-dasharray="0 192 1 111 1 9 1 1 1 218 1 26 1 15 1 9 1 25 1 39 1 43 1 83 1 38 1 2000" d="M0 112.5h938"/><path stroke="#c4daee" stroke-dasharray="0 317 1 212 1 2 1 5 1 17 1 35 1 17 1 75 1 1 1 4 1 119 2 39 1 2 1 14 1 2000" d="M0 112.5h938"/><path stroke="#bfd7ed" stroke-dasharray="0 795 1 57 1 2 1 2000" d="M0 112.5h938"/><path stroke="#bad4eb" stroke-dasharray="0 341 1 348 3 8 1 107 2 43 1 76 1 2000" d="M0 112.5h938"/><path stroke="#b5d0e9" stroke-dasharray="0 532 1 10 1 35 1 200 1 47 1 28 1 2000" d="M0 112.5h938"/><path stroke="#afcce7" stroke-dasharray="0 324 1 226 1 244 1 30 1 2000" d="M0 112.5h938"/><path stroke="#aac8e4" stroke-dasharray="0 540 1 8 1 2000" d="M0 112.5h938"/><path stroke="#a5c5e2" stroke-dasharray="0 531 1 2000" d="M0 112.5h938"/><path stroke="#9fc1e0" stroke-dasharray="0 529 1 158 1 2000" d="M0 112.5h938"/><path stroke="#9abdde" stroke-dasharray="0 534 1 164 1 2000" d="M0 112.5h938"/><path stroke="#6e95c2" stroke-dasharray="0 550 1 2000" d="M0 112.5h938"/></g><linearGradient id="d4"><stop offset="0" stop-color="#0b225b"/><stop offset="0.05" stop-color="#0b225b"/><stop offset="0.11" stop-color="#0b225b"/><stop offset="0.16" stop-color="#0b225b"/><stop offset="0.21" stop-color="#0b225b"/><stop offset="0.26" stop-color="#0c3377"/><stop offset="0.32" stop-color="#307aba"/><stop offset="0.37" stop-color="#99c5e1"/><stop offset="0.42" stop-color="#c0d9ed"/><stop offset="0.47" stop-color="#c5dbef"/><stop offset="0.53" stop-color="#cadef0"/><stop offset="0.58" stop-color="#cfe1f2"/><stop offset="0.63" stop-color="#d3e4f3"/><stop offset="0.68" stop-color="#d5e5f4"/><stop offset="0.74" stop-color="#d8e7f5"/><stop offset="0.79" stop-color="#dae8f5"/><stop offset="0.84" stop-color="#dceaf6"/><stop offset="0.89" stop-color="#deebf7"/><stop offset="0.95" stop-color="#e1edf7"/><stop offset="1" stop-color="#e3eef8"/></linearGradient><rect x="272.7" y="100" width="28.1" height="25" fill="url(#d4)"/><g stroke-width="25"><path stroke="#eff6fc" stroke-dasharray="0 1 2 4 1 4 1 4 1 1 1 9 3 2 1 1 2 3 3 4 2 7 1 6 2 2 1 4 1 2 2 1 1 4 1 1 1 3 1 8 2 3 1 3 3 3 2 2 1 2 1 2 1 1 1 1 3 2 1 1 2 3 1 3 1 1 3 5 2 2 1 7 3 2 1 1 1 3 4 3 1 1 2 2 3 2 1 5 3 1 2 2 1 12 2 1 1 5 5 1 2 1 1 1 1 3 2 2 2 2 2 6 1 2 2 1 5 4 5 3 1 1 5 6 1 30 4 2 2 3 4 2 1 3 1 1 3 1 2 1 4 2 2 1 1 12 1 6 2 1 1 7 1 2 2 11 2 3 4 5 2 1 1 6 1 2 2 3 1 2 1 2 1 3 1 2 1 3 1 1 3 4 1 6 2 7 4 5 2 3 3 7 1 5 7 19 1 17 3 2 1 1 1 1 4 7 1 1 11 3 7 2 1 1 2 3 2 4 4 1 1 3 3 1 3 2 2 4 1 1 3 6 1 4 1 4 1 4 1 6 1 2 2 1 1 2 2 2 2 6 1 4 1 14 1 2 1 1 3 2 1 5 1 3 1 3 1 3 1 1 1 1 1 3 1 1 2 5 1 3 4 1 1 1 1 2 1 1 1 1 1 1 3 9 1 1 1 2 1 1 1 4 1 1 2 1 1 9 1 1 1 3 1 2 3 2 1 5 2 3 2 3 1 6 3 6 2 1 5 2 1 1 1 2 1 2 4 2 1 3 1 5 2 3 1 1 2 1 1 2 2 1 3 5 1 7 2 2000" d="M0 137.5h938"/><path stroke="#eaf3fb" stroke-dasharray="0 0 1 17 1 37 1 28 1 5 1 6 1 28 1 55 1 20 1 31 1 4 1 21 1 10 1 1 1 15 1 58 1 3 1 34 1 13 1 135 1 3 1 1 1 4 1 3 1 3 1 6 2 3 1 6 2 1 2 1 1 21 2 4 2 3 1 2 1 7 1 4 1 71 1 12 1 23 1 5 1 1 1 5 1 5 1 11 1 8 1 13 1 11 1 120 3 2000" d="M0 137.5h938"/><path stroke="#e6f0fa" stroke-dasharray="0 35 1 239 1 46 1 203 1 16 1 5 1 6 1 1 1 1 1 1 1 13 2 18 1 17 1 12 1 1 1 53 1 39 1 39 1 8 1 29 1 2000" d="M0 137.5h938"/><path stroke="#e1edf8" stroke-dasharray="0 541 1 10 1 65 1 2000" d="M0 137.5h938"/><path stroke="#dceaf6" stroke-dasharray="0 542 1 7 1 47 1 2000" d="M0 137.5h938"/><path stroke="#d8e7f5" stroke-dasharray="0 530 3 6 1 17 1 22 1 2000" d="M0 137.5h938"/><path stroke="#d4e4f4" stroke-dasharray="0 547 1 5 2 42 1 21 1 2000" d="M0 137.5h938"/><path stroke="#cfe1f2" stroke-dasharray="0 318 1 242 1 2000" d="M0 137.5h938"/><path stroke="#cadef0" stroke-dasharray="0 527 1 20 1 2000" d="M0 137.5h938"/><path stroke="#bfd7ed" stroke-dasharray="0 528 2 3 1 4 1 2000" d="M0 137.5h938"/><path stroke="#bad4eb" stroke-dasharray="0 317 1 218 1 2000" d="M0 137.5h938"/><path stroke="#b5d0e9" stroke-dasharray="0 321 1 215 1 2000" d="M0 137.5h938"/><path stroke="#afcce7" stroke-dasharray="0 319 1 214 1 244 1 2000" d="M0 137.5h938"/><path stroke="#aac8e4" stroke-dasharray="0 315 1 2000" d="M0 137.5h938"/><path stroke="#a5c5e2" stroke-dasharray="0 273 1 2000" d="M0 137.5h938"/><path stroke="#9fc1e0" stroke-dasharray="0 320 1 2000" d="M0 137.5h938"/><path stroke="#94b8db" stroke-dasharray="0 535 1 2000" d="M0 137.5h938"/><path stroke="#557bab" stroke-dasharray="0 316 1 2000" d="M0 137.5h938"/></g><linearGradient id="d5"><stop offset="0" stop-color="#0b225b"/><stop offset="0.11" stop-color="#0b225b"/><stop offset="0.22" stop-color="#0b225b"/><stop offset="0.33" stop-color="#0b225b"/><stop offset="0.44" stop-color="#0b225b"/><stop offset="0.56" stop-color="#114892"/><stop offset="0.67" stop-color="#448dc4"/><stop offset="0.78" stop-color="#91c1de"/><stop offset="0.89" stop-color="#c4dbef"/><stop offset="1" stop-color="#dfebf7"/></linearGradient><rect x="301.8" y="125" width="12.7" height="25" fill="url(#d5)"/><g stroke-width="24"><path stroke="#eff6fc" stroke-dasharray="0 0 1 10 1 1 1 1 2 1 1 3 1 1 1 11 3 4 1 1 2 1 3 3 1 2 3 3 2 2 1 2 3 7 2 2 2 12 2 10 2 3 2 1 1 8 3 1 1 6 4 1 4 3 3 1 1 2 1 6 1 3 1 1 1 1 1 1 1 9 2 5 1 2 2 4 1 4 1 1 1 1 3 2 1 1 2 1 1 10 1 1 1 3 1 2 1 3 1 3 1 2 1 5 2 1 1 1 1 2 2 2 1 3 1 13 1 1 1 9 1 1 1 26 1 2 2 2 1 10 1 2 1 2 1 12 1 1 2 13 1 8 2 1 1 4 2 1 5 1 1 8 2 5 1 6 1 1 1 1 1 3 1 1 1 1 1 7 2 1 1 1 2 2 1 11 1 5 3 12 1 1 1 12 3 7 4 30 1 3 1 8 3 1 2 3 1 10 1 2 1 1 3 6 6 5 8 1 1 4 3 2 3 1 3 9 1 1 4 2 5 2 1 4 1 2 1 1 1 1 1 2 1 3 6 1 1 3 1 1 1 1 1 2 1 1 4 2 1 1 1 1 1 3 1 1 1 2 1 8 3 4 1 1 1 1 1 4 1 5 2 5 1 2 1 2 2 10 1 1 1 2 2 1 1 10 2 1 1 6 2 6 1 2 4 2 1 5 1 3 3 1 2 4 1 1 2 15 1 1 2 1 3 7 3 4 1 1 2 1 1 14 4 1 5 9 3 3 2 2 2 2000" d="M0 162h938"/><path stroke="#eaf3fb" stroke-dasharray="0 12 1 1 1 2 1 26 1 2 1 47 2 29 1 3 1 22 1 2 1 14 1 36 1 4 1 1 1 2 1 10 1 30 1 23 2 29 1 16 2 48 1 6 1 10 1 5 1 24 1 7 1 17 2 21 1 12 1 32 1 22 2 9 2 1 1 3 1 2 1 3 1 8 1 1 1 10 2 7 2 10 1 4 1 8 1 5 1 24 1 5 1 15 1 5 1 43 1 61 1 14 2 27 1 35 1 4 1 2 1 42 1 2000" d="M0 162h938"/><path stroke="#e6f0fa" stroke-dasharray="0 23 1 182 1 73 1 173 1 93 1 7 1 2 1 11 2 3 1 2 1 2 1 3 1 7 2 8 1 2 1 11 1 1 1 4 2 7 2 26 1 33 1 15 1 196 1 2 4 11 1 2000" d="M0 162h938"/><path stroke="#e1edf8" stroke-dasharray="0 275 1 6 1 24 1 57 1 162 1 2 1 9 1 5 1 6 1 37 1 15 1 250 1 52 1 5 1 2000" d="M0 162h938"/><path stroke="#dceaf6" stroke-dasharray="0 142 1 134 1 1 1 21 1 227 1 2 1 9 1 9 1 9 1 12 1 1 1 2 1 2000" d="M0 162h938"/><path stroke="#d8e7f5" stroke-dasharray="0 283 1 26 1 216 1 2 1 2 1 12 1 73 1 2000" d="M0 162h938"/><path stroke="#d4e4f4" stroke-dasharray="0 274 1 1 1 4 1 32 1 228 2 2000" d="M0 162h938"/><path stroke="#cfe1f2" stroke-dasharray="0 302 1 3 1 1 1 226 1 22 1 34 1 317 1 5 1 2000" d="M0 162h938"/><path stroke="#cadef0" stroke-dasharray="0 538 1 18 1 2000" d="M0 162h938"/><path stroke="#c4daee" stroke-dasharray="0 309 1 2 2 225 1 38 1 2000" d="M0 162h938"/><path stroke="#bfd7ed" stroke-dasharray="0 278 1 266 1 2000" d="M0 162h938"/><path stroke="#bad4eb" stroke-dasharray="0 581 1 2000" d="M0 162h938"/><path stroke="#b5d0e9" stroke-dasharray="0 304 1 2000" d="M0 162h938"/><path stroke="#afcce7" stroke-dasharray="0 273 1 29 1 7 1 225 1 15 1 2000" d="M0 162h938"/><path stroke="#a5c5e2" stroke-dasharray="0 536 1 3 1 2000" d="M0 162h938"/><path stroke="#94b8db" stroke-dasharray="0 305 1 228 1 2000" d="M0 162h938"/></g><linearGradient id="d6"><stop offset="0" stop-color="#0b225b"/><stop offset="0.12" stop-color="#0b225b"/><stop offset="0.25" stop-color="#0b225b"/><stop offset="0.38" stop-color="#0b225b"/><stop offset="0.5" stop-color="#0b225b"/><stop offset="0.62" stop-color="#0b225b"/><stop offset="0.75" stop-color="#0d3c86"/><stop offset="0.88" stop-color="#8fc0de"/><stop offset="1" stop-color="#e3eef8"/></linearGradient><rect x="315.8" y="150" width="10.7" height="24" fill="url(#d6)"/><g stroke-width="25"><path stroke="#eff6fc" stroke-dasharray="0 7 2 1 1 1 1 13 1 2 1 1 1 11 1 1 1 2 1 2 1 2 1 2 2 11 1 2 1 10 1 2 2 1 2 5 1 8 1 3 2 7 1 1 1 6 1 12 1 3 2 3 1 7 1 6 1 6 1 2 4 5 6 3 2 3 1 1 1 7 2 3 3 4 2 8 1 5 2 3 1 9 2 11 2 5 5 4 1 5 1 2 1 2 1 10 5 25 2 1 1 17 1 1 2 6 2 1 1 1 1 1 1 7 1 4 2 4 1 7 1 6 1 2 1 5 2 2 1 4 2 7 1 4 1 1 1 20 1 31 2 5 1 10 1 5 1 2 1 1 2 8 5 10 1 15 1 6 3 1 2 18 1 2 3 2 1 7 1 2 2 4 2 1 1 1 2 4 2 2 1 17 1 1 1 5 1 4 1 3 1 2 1 3 1 8 2 5 1 14 1 1 1 7 1 5 1 2 1 4 1 10 2 5 1 9 2 6 1 2 1 1 1 2 1 3 1 1 2 25 2 3 1 3 2 17 1 4 1 4 1 3 1 5 2 6 1 5 4 4 3 4 1 1 1 7 1 4 3 11 1 10 1 8 1 1 3 2000" d="M0 186.5h938"/><path stroke="#eaf3fb" stroke-dasharray="0 11 1 1 1 45 1 60 1 30 1 79 1 138 1 18 1 165 1 66 1 154 1 2000" d="M0 186.5h938"/><path stroke="#e6f0fa" stroke-dasharray="0 652 1 2000" d="M0 186.5h938"/></g><linearGradient id="d7"><stop offset="0" stop-color="#0b225b"/><stop offset="0.5" stop-color="#418ac3"/><stop offset="1" stop-color="#5ba0cd"/></linearGradient><rect x="327" y="174" width="1.1" height="25" fill="url(#d7)"/><g stroke-width="25"><path stroke="#eff6fc" stroke-dasharray="0 1 2 1 1 2 2 1 2 9 2 1 1 1 2 1 1 1 2 1 2 2 1 1 1 3 2 4 1 1 1 3 1 1 2 3 2 1 1 4 2 2 1 1 6 1 2 2 2 3 3 2 4 2 3 1 5 5 2 3 2 1 1 3 2 1 1 1 1 1 1 1 1 3 2 1 3 1 1 6 1 1 1 2 1 8 1 3 1 1 3 3 2 3 1 1 1 2 1 4 1 5 2 3 3 2 1 1 1 4 3 2 3 1 3 2 1 6 2 1 1 1 1 13 1 1 1 6 3 5 1 2 1 1 3 1 1 1 1 5 1 3 2 5 2 31 5 1 1 3 1 1 5 5 4 2 6 1 1 3 5 1 1 1 2 1 1 8 1 8 1 2 1 4 1 3 2 5 3 2 1 4 1 1 7 4 1 1 1 3 1 1 1 3 1 2 6 1 1 5 3 3 1 12 1 10 1 2 1 2 1 1 1 1 3 1 3 1 1 4 1 5 1 1 3 1 3 3 1 8 2 1 1 1 1 3 2 1 3 4 1 4 3 3 1 1 2 1 1 1 1 3 1 2 2 4 1 1 1 2 1 2 1 1 3 1 1 6 3 1 4 4 2 7 1 8 1 1 2 1 1 3 1 1 1 10 2 2 2 1 3 3 2 1 3 4 3 1 3 3 2 4 2 3 2 4 1 3 2 1 2 1 1 5 3 2 2 2 1 1 1 1 1 1 2 3 2 1 1 1 1 3 1 1 1 1 1 4 5 3 1 8 1 5 1 1 1 1 2 1 1 1 1 2 2 1 1 2 1 6 1 6 1 1 1 2 1 2 2 4 1 1 2 1 2 2 1 2 1 3 1 2 1 3 1 1 2 3 1 2 1 1 1 2 3 1 4 2 2 3 1 2 1 1 1 2 5 2 3 1 1 2 6 1 2 2000" d="M0 211.5h938"/><path stroke="#eaf3fb" stroke-dasharray="0 19 1 3 1 4 1 4 1 2 2 1 1 3 1 2 2 1 1 1 1 8 1 1 1 7 1 5 1 6 1 3 1 2 3 3 2 4 2 32 1 5 1 33 1 8 3 74 1 2 1 1 1 8 2 4 1 18 1 36 1 5 1 20 1 7 1 14 1 11 2 6 2 46 1 13 1 43 1 12 1 1 1 11 1 7 1 9 1 31 1 90 1 12 1 19 1 20 1 21 1 1 1 9 1 1 1 1 1 23 3 12 1 12 1 6 2 10 2 10 1 5 2 9 1 12 1 22 1 13 1 2000" d="M0 211.5h938"/><path stroke="#e6f0fa" stroke-dasharray="0 9 1 2 4 1 1 23 1 6 1 8 1 15 1 12 1 128 1 30 1 41 1 61 1 15 1 70 1 150 1 94 1 89 1 2 1 31 1 45 1 45 1 2000" d="M0 211.5h938"/><path stroke="#e1edf8" stroke-dasharray="0 18 1 23 1 24 1 6 1 451 1 1 1 39 1 24 1 74 1 2000" d="M0 211.5h938"/><path stroke="#dceaf6" stroke-dasharray="0 16 1 44 1 6 1 330 1 499 1 2000" d="M0 211.5h938"/><path stroke="#d8e7f5" stroke-dasharray="0 875 1 2000" d="M0 211.5h938"/><path stroke="#d4e4f4" stroke-dasharray="0 0 1 68 1 2000" d="M0 211.5h938"/><path stroke="#cfe1f2" stroke-dasharray="0 266 1 2000" d="M0 211.5h938"/><path stroke="#bad4eb" stroke-dasharray="0 926 1 2000" d="M0 211.5h938"/><path stroke="#afcce7" stroke-dasharray="0 778 1 2000" d="M0 211.5h938"/></g><linearGradient id="d8"><stop offset="0" stop-color="#0b225b"/><stop offset="0.17" stop-color="#0b225b"/><stop offset="0.33" stop-color="#0b225b"/><stop offset="0.5" stop-color="#0b225b"/><stop offset="0.67" stop-color="#0b225b"/><stop offset="0.83" stop-color="#3883bf"/><stop offset="1" stop-color="#eaf2fa"/></linearGradient><rect x="328.1" y="199" width="8.9" height="25" fill="url(#d8)"/><g stroke-width="25"><path stroke="#eff6fc" stroke-dasharray="0 1 3 6 2 6 1 3 2 5 2 1 1 18 1 15 3 4 1 3 1 3 3 4 1 5 1 6 2 6 2 2 1 6 1 10 4 5 1 10 3 1 1 13 1 4 3 4 1 27 1 3 1 6 2 13 1 20 1 3 1 6 2 1 1 11 1 3 1 2 2 1 1 18 1 14 1 10 1 9 1 9 1 1 2 3 2 3 1 10 2 1 1 4 1 1 1 10 1 1 1 7 2 6 1 2 1 5 1 6 2 6 1 5 1 2 1 1 1 7 2 2 1 10 2 4 2 1 1 9 1 1 2 3 1 30 3 12 2 8 2 2 1 16 1 3 1 21 1 6 3 20 2 4 1 1 1 3 4 1 1 4 2 4 2 7 2 1 1 3 1 2 1 8 4 1 2 5 1 16 1 1 2 1 2 6 2 2 1 21 2 12 1 3 1 1 2 9 1 6 1 9 3 2 1 6 1 6 1 1 1 1 3 7 4 4 1 3 1 1 2 4 3 3 2 1 1 10 3 2 2 3 1 8 1 8 1 3 1 8 1 1 1 7 4 2000" d="M0 236.5h938"/><path stroke="#eaf3fb" stroke-dasharray="0 292 1 44 1 90 1 9 1 15 1 268 1 178 1 10 1 10 1 2000" d="M0 236.5h938"/><path stroke="#e6f0fa" stroke-dasharray="0 390 1 440 1 2000" d="M0 236.5h938"/></g><linearGradient id="d9"><stop offset="0" stop-color="#0b225b"/><stop offset="0.5" stop-color="#64a6d0"/><stop offset="1" stop-color="#74b0d5"/></linearGradient><rect x="339" y="224" width="1" height="25" fill="url(#d9)"/><g stroke-width="25"><path stroke="#eff6fc" stroke-dasharray="0 17 1 14 1 8 6 8 5 6 1 2 1 20 1 1 1 1 1 3 1 4 1 17 4 2 1 2 1 2 2 2 1 3 2 1 1 10 1 1 1 2 1 1 2 2 1 2 1 1 4 1 1 1 1 1 4 6 1 3 1 2 1 1 1 1 3 1 2 4 2 3 4 2 1 3 1 1 1 1 1 3 3 1 3 4 2 4 4 3 6 1 1 3 2 2 2 1 1 3 2 4 4 1 1 6 3 2 3 2 1 5 2 1 2 1 2 13 1 2 2 44 1 1 1 2 1 1 2 2 1 1 2 4 1 1 2 2 1 2 1 1 2 5 3 1 2 1 2 2 2 1 1 4 1 6 4 5 1 4 3 2 2 2 1 1 7 6 2 1 1 1 2 1 1 3 1 8 3 1 3 3 1 3 1 1 2 2 2 6 2 1 1 2 2 1 1 3 1 1 1 1 5 1 1 1 3 2 2 2 1 10 1 2 1 7 2 1 2 4 1 2 1 2 3 1 1 3 1 1 1 6 1 1 1 1 1 1 1 1 3 4 1 5 2 1 1 2 1 4 1 4 2 4 1 2 1 3 1 10 1 7 1 4 1 8 2 7 2 8 1 1 1 1 2 1 1 1 3 1 3 1 1 5 1 4 1 14 2 7 1 3 1 1 2 6 1 1 1 3 1 1 3 1 2 2 2 6 1 1 2 1 2 3 2 1 1 1 5 1 3 5 3 12 1 2 2 3 2 3 1 1 1 1 2 1 1 1 4 3 1 3 1 1 1 6 1 4 1 1 1 1 1 5 1 1 1 2 1 1 1 1 1 2 3 2 5 2000" d="M0 261.5h938"/><path stroke="#eaf3fb" stroke-dasharray="0 18 1 1 1 3 1 8 1 5 2 6 2 11 2 5 2 1 1 1 1 1 1 12 1 3 1 1 1 1 3 1 1 2 1 2 1 1 1 3 1 16 2 15 1 13 1 10 1 29 1 3 1 102 1 8 1 5 2 66 1 10 1 32 1 57 1 16 1 5 1 1 3 1 1 14 1 13 1 5 1 1 1 3 1 10 1 1 1 19 2 7 1 3 1 36 1 16 1 19 1 1 1 5 1 1 4 1 2 3 1 4 1 8 1 13 1 1 1 15 1 21 1 10 1 26 1 6 1 7 1 4 1 5 1 39 1 13 1 3 1 9 1 1 1 2000" d="M0 261.5h938"/><path stroke="#e6f0fa" stroke-dasharray="0 16 1 4 1 1 1 1 3 1 3 5 1 16 1 8 1 1 1 5 1 4 1 4 1 1 1 1 2 2 1 11 1 2 1 1 1 54 1 13 1 51 1 78 1 78 1 16 1 10 1 10 1 64 1 113 1 76 2 6 2 10 1 8 3 1 1 55 1 21 1 124 1 6 1 2000" d="M0 261.5h938"/><path stroke="#e1edf8" stroke-dasharray="0 22 1 5 1 9 1 10 1 2 1 9 1 10 1 1 1 1 2 1 1 1 1 5 1 201 1 396 1 13 1 1 1 8 1 88 1 77 1 2000" d="M0 261.5h938"/><path stroke="#dceaf6" stroke-dasharray="0 13 2 4 1 16 1 13 2 1 1 10 1 19 1 23 1 49 1 545 1 3 1 2000" d="M0 261.5h938"/><path stroke="#d8e7f5" stroke-dasharray="0 12 1 561 1 110 1 217 1 2000" d="M0 261.5h938"/><path stroke="#d4e4f4" stroke-dasharray="0 34 1 44 1 20 1 8 2 2000" d="M0 261.5h938"/><path stroke="#cfe1f2" stroke-dasharray="0 3 1 695 1 2000" d="M0 261.5h938"/><path stroke="#c4daee" stroke-dasharray="0 2 1 4 2 677 1 2000" d="M0 261.5h938"/><path stroke="#bfd7ed" stroke-dasharray="0 35 1 2000" d="M0 261.5h938"/><path stroke="#bad4eb" stroke-dasharray="0 15 1 2000" d="M0 261.5h938"/><path stroke="#b5d0e9" stroke-dasharray="0 6 1 2000" d="M0 261.5h938"/><path stroke="#aac8e4" stroke-dasharray="0 1 1 2000" d="M0 261.5h938"/><path stroke="#a5c5e2" stroke-dasharray="0 9 1 2000" d="M0 261.5h938"/><path stroke="#9abdde" stroke-dasharray="0 0 1 3 1 6 1 2000" d="M0 261.5h938"/><path stroke="#94b8db" stroke-dasharray="0 10 1 2000" d="M0 261.5h938"/><path stroke="#6990be" stroke-dasharray="0 5 1 2000" d="M0 261.5h938"/></g><linearGradient id="d10"><stop offset="0" stop-color="#0b225b"/><stop offset="0.04" stop-color="#0b225b"/><stop offset="0.08" stop-color="#0b225b"/><stop offset="0.12" stop-color="#0b225b"/><stop offset="0.15" stop-color="#0b225b"/><stop offset="0.19" stop-color="#0b225b"/><stop offset="0.23" stop-color="#0b225b"/><stop offset="0.27" stop-color="#0d3c86"/><stop offset="0.31" stop-color="#1755a0"/><stop offset="0.35" stop-color="#256aaf"/><stop offset="0.38" stop-color="#337dbc"/><stop offset="0.42" stop-color="#468ec5"/><stop offset="0.46" stop-color="#559bcb"/><stop offset="0.5" stop-color="#67a8d1"/><stop offset="0.54" stop-color="#7bb4d7"/><stop offset="0.58" stop-color="#8ebfdd"/><stop offset="0.62" stop-color="#9cc7e2"/><stop offset="0.65" stop-color="#abcee7"/><stop offset="0.69" stop-color="#b8d5eb"/><stop offset="0.73" stop-color="#c1d9ee"/><stop offset="0.77" stop-color="#c9def0"/><stop offset="0.81" stop-color="#d0e2f2"/><stop offset="0.85" stop-color="#d6e6f4"/><stop offset="0.88" stop-color="#dceaf6"/><stop offset="0.92" stop-color="#e2edf8"/><stop offset="0.96" stop-color="#e7f0f9"/><stop offset="1" stop-color="#ecf4fb"/></linearGradient><rect x="340" y="249" width="38.8" height="25" fill="url(#d10)"/><g stroke-width="25"><path stroke="#eff6fc" stroke-dasharray="0 0 1 2 2 1 1 2 3 3 1 1 1 2 3 2 2 7 2 6 2 1 2 2 2 2 3 1 1 2 2 7 2 2 3 2 3 2 2 1 3 3 1 2 3 1 2 1 2 5 1 2 1 4 4 3 2 3 1 1 3 4 1 2 2 15 4 2 2 2 1 2 3 1 3 1 3 2 3 2 2 1 3 6 2 6 2 6 1 1 2 1 1 1 1 1 1 2 5 1 2 2 1 3 1 2 2 1 2 6 1 1 3 1 3 1 1 6 3 1 2 1 1 3 2 6 1 1 5 3 2 1 2 4 1 4 3 1 3 7 2 1 4 2 1 1 1 1 1 7 2 6 1 7 1 1 1 1 2 1 1 37 1 5 1 2 1 2 1 1 1 1 1 2 1 2 2 3 1 5 3 3 1 1 1 2 1 6 1 1 2 5 1 4 1 4 1 2 4 1 2 3 4 1 1 1 5 1 2 2 2 4 1 2 1 3 2 1 3 1 2 10 2 7 1 3 1 1 3 2 2 2 1 2 4 2 1 8 1 2 1 6 1 5 3 4 3 1 1 1 2 5 1 2 4 8 5 2 2 1 1 2 1 7 2 4 1 1 4 1 3 5 4 3 2 1 1 2 1 10 3 6 1 5 1 3 1 2 2 1 4 1 3 4 3 16 5 12 1 1 3 4 2 4 1 1 2 5 1 3 2 1 1 2 2 5 1 4 2 3 1 3 3 2 1 2 1 1 1 4 2 4 2 1 1 1 1 4 1 1 3 2 1 1 2 6 2 1 8 2 4 2 3 19 4 3 3 1 2 2 1 2000" d="M0 286.5h938"/><path stroke="#eaf3fb" stroke-dasharray="0 1 2 4 1 4 1 6 1 3 2 2 1 4 2 2 1 1 2 1 1 2 1 2 2 2 2 3 1 1 1 3 1 1 1 1 1 9 2 4 1 2 1 3 3 9 1 2 1 5 1 16 1 46 1 59 1 13 1 7 1 9 1 5 2 3 1 55 1 35 1 7 1 42 1 18 1 11 1 33 1 35 1 54 1 94 1 87 1 18 1 28 1 17 1 29 1 6 1 5 2 2000" d="M0 286.5h938"/><path stroke="#e6f0fa" stroke-dasharray="0 29 1 7 1 21 1 8 1 3 1 8 1 25 2 2 1 18 1 149 1 145 1 93 1 56 1 35 1 33 1 41 1 2000" d="M0 286.5h938"/><path stroke="#e1edf8" stroke-dasharray="0 8 1 5 1 25 1 22 1 1 1 159 1 258 1 47 1 2000" d="M0 286.5h938"/><path stroke="#dceaf6" stroke-dasharray="0 18 1 9 1 38 1 3 1 2000" d="M0 286.5h938"/><path stroke="#d8e7f5" stroke-dasharray="0 13 1 16 1 74 1 831 1 2000" d="M0 286.5h938"/><path stroke="#cfe1f2" stroke-dasharray="0 31 1 380 1 2000" d="M0 286.5h938"/><path stroke="#bfd7ed" stroke-dasharray="0 106 1 2000" d="M0 286.5h938"/><path stroke="#83a9d2" stroke-dasharray="0 926 2 2000" d="M0 286.5h938"/></g><linearGradient id="d11"><stop offset="0" stop-color="#0b225b"/><stop offset="0.05" stop-color="#0b225b"/><stop offset="0.1" stop-color="#0b225b"/><stop offset="0.15" stop-color="#0b225b"/><stop offset="0.2" stop-color="#0b225b"/><stop offset="0.25" stop-color="#0b225b"/><stop offset="0.3" stop-color="#0d3f8a"/><stop offset="0.35" stop-color="#1857a1"/><stop offset="0.4" stop-color="#2c73b5"/><stop offset="0.45" stop-color="#458ec4"/><stop offset="0.5" stop-color="#62a4cf"/><stop offset="0.55" stop-color="#7bb4d7"/><stop offset="0.6" stop-color="#93c2df"/><stop offset="0.65" stop-color="#a7cce5"/><stop offset="0.7" stop-color="#b4d3ea"/><stop offset="0.75" stop-color="#bcd7ec"/><stop offset="0.8" stop-color="#c4dbef"/><stop offset="0.85" stop-color="#cde0f1"/><stop offset="0.9" stop-color="#d4e4f4"/><stop offset="0.95" stop-color="#dce9f6"/><stop offset="1" stop-color="#e3eef8"/></linearGradient><rect x="379.3" y="274" width="29" height="25" fill="url(#d11)"/><g stroke-width="25"><path stroke="#eff6fc" stroke-dasharray="0 1 4 2 2 2 2 9 2 1 4 1 4 1 1 1 1 1 2 3 4 2 2 2 1 1 2 2 1 2 3 1 5 1 1 4 1 1 1 1 1 1 1 1 1 1 5 1 1 1 2 1 4 1 2 1 5 1 1 2 3 3 4 1 1 3 2 4 2 1 1 1 1 1 2 1 2 8 2 2 2 1 2 2 6 6 6 2 2 7 3 4 1 1 1 5 1 2 1 1 1 1 1 2 1 2 1 1 2 5 2 1 1 2 1 5 1 6 2 5 3 1 2 1 2 1 1 3 2 2 1 1 1 4 1 2 1 4 3 2 1 2 3 1 1 1 1 2 1 6 1 4 1 4 1 2 4 2 1 1 3 14 3 12 2 1 1 2 2 8 1 7 1 1 6 1 1 1 2 89 1 3 2 12 2 3 3 3 2 1 5 2 2 17 1 15 1 1 1 2 1 2 2 8 2 9 1 3 4 1 1 5 1 1 1 1 1 1 1 1 1 3 1 1 1 3 1 1 3 1 2 2 1 7 1 2 1 5 1 7 2 4 4 1 1 1 1 3 1 1 1 1 1 35 1 5 1 2 3 2 5 3 1 2 2 1 2 1 2 8 1 1 2 2 1 45 1 1 3 5 1 5 1 2 1 3 1 1 7 1 1 1 1 1 1 1 1 6 1 3 1 7 4 10 1 2 1 1 1 1 3 4 1 1 2 9 2 1 1 1 2 6 1 1 1 3 3 2000" d="M0 311.5h938"/><path stroke="#eaf3fb" stroke-dasharray="0 5 2 3 1 5 2 6 1 4 1 4 1 3 1 9 2 2 2 5 1 6 1 5 1 1 1 1 2 1 1 5 1 1 1 5 1 9 1 2 1 21 1 1 1 5 1 2 1 3 1 2 1 6 2 4 1 6 2 6 6 10 1 2 1 1 2 3 1 7 1 2 1 1 1 7 1 1 2 11 1 7 2 1 3 2 1 4 1 1 1 3 1 2 1 29 2 10 2 34 1 8 1 13 1 4 1 1 2 2 2 1 1 3 1 1 1 1 4 2 1 11 1 89 1 1 1 4 3 6 1 2 1 1 1 3 1 10 1 4 1 7 1 5 2 1 1 1 2 10 1 1 1 1 1 2 2 2 1 4 2 3 2 1 1 4 1 1 3 6 3 1 1 7 1 1 1 1 1 7 1 6 2 1 1 2 2 1 1 4 3 7 3 2 2 1 1 6 1 9 1 1 1 2 1 15 1 1 2 4 2 2 1 5 1 7 1 14 1 2 1 5 1 1 1 7 1 3 1 6 1 22 2 2 1 7 1 11 1 8 1 11 1 49 2 3 1 15 1 2000" d="M0 311.5h938"/><path stroke="#e6f0fa" stroke-dasharray="0 0 1 8 1 10 2 36 1 16 1 7 1 30 2 13 1 5 1 13 1 2 1 7 1 2 1 28 1 8 1 1 1 3 1 2 1 3 1 1 1 12 1 2 1 6 1 1 3 14 1 82 1 7 2 3 1 3 1 2 1 3 2 1 1 11 1 1 1 5 1 4 1 8 1 1 1 105 1 12 2 14 2 4 1 10 1 6 2 1 1 15 1 1 1 7 1 14 1 9 1 1 1 17 1 20 1 1 4 28 2 3 2 1 1 6 3 1 1 2 1 6 1 1 1 1 1 53 1 11 2 5 1 7 2 10 1 22 1 9 1 41 1 36 1 2000" d="M0 311.5h938"/><path stroke="#e1edf8" stroke-dasharray="0 15 1 2 2 130 1 4 2 63 1 9 1 2 1 17 1 27 1 65 1 156 2 7 2 4 1 16 1 9 1 6 1 7 1 1 1 3 1 8 1 19 1 17 1 35 1 38 1 7 2 4 1 18 1 56 1 2 1 1 1 1 2 2 1 8 1 2 4 10 2 2000" d="M0 311.5h938"/><path stroke="#dceaf6" stroke-dasharray="0 13 2 176 1 10 1 6 1 40 1 92 1 8 1 9 2 5 1 137 1 1 1 27 1 3 1 6 1 11 1 6 2 18 1 9 1 59 1 32 1 15 1 83 1 18 2 1 1 2000" d="M0 311.5h938"/><path stroke="#d8e7f5" stroke-dasharray="0 360 1 3 1 133 1 48 1 1 1 31 1 13 1 28 1 20 1 58 2 9 2 9 2 50 1 20 1 13 1 2000" d="M0 311.5h938"/><path stroke="#d4e4f4" stroke-dasharray="0 543 1 18 1 20 1 87 1 31 1 13 1 57 1 11 1 5 1 1 1 2000" d="M0 311.5h938"/><path stroke="#cfe1f2" stroke-dasharray="0 304 1 37 1 3 1 161 1 252 1 14 1 2000" d="M0 311.5h938"/><path stroke="#cadef0" stroke-dasharray="0 542 1 101 1 54 1 94 1 16 1 2000" d="M0 311.5h938"/><path stroke="#c4daee" stroke-dasharray="0 134 1 16 1 42 1 36 1 6 1 108 1 3 1 32 1 317 1 2000" d="M0 311.5h938"/><path stroke="#bfd7ed" stroke-dasharray="0 359 1 23 1 399 1 2 1 2 1 2000" d="M0 311.5h938"/><path stroke="#bad4eb" stroke-dasharray="0 126 1 423 1 45 1 2000" d="M0 311.5h938"/><path stroke="#b5d0e9" stroke-dasharray="0 348 1 447 1 2000" d="M0 311.5h938"/></g><linearGradient id="d12"><stop offset="0" stop-color="#0b225b"/><stop offset="0.02" stop-color="#0b225b"/><stop offset="0.04" stop-color="#0b225b"/><stop offset="0.05" stop-color="#0b225b"/><stop offset="0.07" stop-color="#0b225b"/><stop offset="0.09" stop-color="#0b225b"/><stop offset="0.11" stop-color="#0b225b"/><stop offset="0.12" stop-color="#0b225b"/><stop offset="0.14" stop-color="#0b225b"/><stop offset="0.16" stop-color="#0b225b"/><stop offset="0.18" stop-color="#0b225b"/><stop offset="0.19" stop-color="#0b225b"/><stop offset="0.21" stop-color="#0b225b"/><stop offset="0.23" stop-color="#0b225b"/><stop offset="0.25" stop-color="#0b225b"/><stop offset="0.26" stop-color="#0b225b"/><stop offset="0.28" stop-color="#0b2d6e"/><stop offset="0.3" stop-color="#114893"/><stop offset="0.32" stop-color="#16529d"/><stop offset="0.33" stop-color="#1c5da6"/><stop offset="0.35" stop-color="#256aaf"/><stop offset="0.37" stop-color="#2d75b6"/><stop offset="0.39" stop-color="#347fbd"/><stop offset="0.4" stop-color="#3e88c2"/><stop offset="0.42" stop-color="#4991c6"/><stop offset="0.44" stop-color="#539aca"/><stop offset="0.46" stop-color="#5ea2ce"/><stop offset="0.47" stop-color="#6baad2"/><stop offset="0.49" stop-color="#77b1d6"/><stop offset="0.51" stop-color="#83b9da"/><stop offset="0.53" stop-color="#8ec0dd"/><stop offset="0.54" stop-color="#95c3e0"/><stop offset="0.56" stop-color="#9cc6e2"/><stop offset="0.58" stop-color="#a3cae4"/><stop offset="0.6" stop-color="#a9cde6"/><stop offset="0.61" stop-color="#b0d1e8"/><stop offset="0.63" stop-color="#b6d4ea"/><stop offset="0.65" stop-color="#bbd6ec"/><stop offset="0.67" stop-color="#bfd8ed"/><stop offset="0.68" stop-color="#c3dbee"/><stop offset="0.7" stop-color="#c7ddf0"/><stop offset="0.72" stop-color="#cbdff1"/><stop offset="0.74" stop-color="#cfe1f2"/><stop offset="0.75" stop-color="#d2e3f3"/><stop offset="0.77" stop-color="#d5e5f4"/><stop offset="0.79" stop-color="#d8e7f5"/><stop offset="0.81" stop-color="#dae8f5"/><stop offset="0.82" stop-color="#dce9f6"/><stop offset="0.84" stop-color="#ddeaf6"/><stop offset="0.86" stop-color="#dfecf7"/><stop offset="0.88" stop-color="#e1edf8"/><stop offset="0.89" stop-color="#e3eef8"/><stop offset="0.91" stop-color="#e5eff9"/><stop offset="0.93" stop-color="#e7f0f9"/><stop offset="0.95" stop-color="#e8f1fa"/><stop offset="0.96" stop-color="#e9f2fa"/><stop offset="0.98" stop-color="#ebf3fb"/><stop offset="1" stop-color="#ecf4fb"/></linearGradient><rect x="408.1" y="299" width="84.9" height="25" fill="url(#d12)"/><g stroke-width="25"><path stroke="#eff6fc" stroke-dasharray="0 3 4 13 1 2 1 1 2 1 1 2 1 1 3 2 1 2 2 10 1 1 1 5 1 1 1 12 1 5 3 6 1 6 2 13 1 1 1 9 1 8 1 7 1 2 2 1 2 14 1 12 1 1 1 16 1 7 2 1 1 2 1 16 2 3 1 18 1 1 3 6 2 2 1 10 1 1 1 4 1 2 2 3 1 4 3 6 1 4 1 2 1 3 4 5 1 3 1 2 1 9 1 2 1 3 1 3 2 2 1 3 4 3 1 1 1 8 2 3 1 1 2 2 1 6 2 3 1 2 1 4 5 1 2 6 1 2 2 1 1 2 1 2 1 2 1 7 1 1 2 1 1 1 4 10 1 9 1 1 2 13 1 1 2 7 2 1 3 7 1 5 1 2 3 4 1 3 1 1 2 8 1 3 1 5 1 4 1 2 3 2 4 17 2 3 1 5 1 7 1 3 1 16 1 7 3 3 1 2 2 3 1 12 4 9 2 1 2 21 1 4 2 1 2 2 1 4 2 6 1 1 1 6 1 11 1 2 3 8 2 4 2 3 1 2 1 1 1 7 1 8 1 19 2 1 1 1 1 7 1 1 1 1 1 11 1 6 1 10 1 1 1 3 1 4 1 3 1 3 2 5 1 13 1 3 1 1 2 1 1 1 1 2 2 2 2 4 1 2000" d="M0 336.5h938"/><path stroke="#eaf3fb" stroke-dasharray="0 27 1 81 1 4 1 63 1 73 1 27 1 124 1 47 1 56 1 3 1 27 1 292 2 22 1 9 1 2 1 46 1 14 1 2000" d="M0 336.5h938"/><path stroke="#e6f0fa" stroke-dasharray="0 406 1 509 1 2000" d="M0 336.5h938"/><path stroke="#e1edf8" stroke-dasharray="0 682 2 2000" d="M0 336.5h938"/><path stroke="#dceaf6" stroke-dasharray="0 679 2 2000" d="M0 336.5h938"/><path stroke="#cfe1f2" stroke-dasharray="0 10 1 2000" d="M0 336.5h938"/></g><linearGradient id="d13"><stop offset="0" stop-color="#0b225b"/><stop offset="0.5" stop-color="#0b225b"/><stop offset="1" stop-color="#0b2d6e"/></linearGradient><rect x="492.2" y="324" width="2.7" height="25" fill="url(#d13)"/><g stroke-width="25"><path stroke="#eff6fc" stroke-dasharray="0 6 1 17 2 10 1 6 1 6 2 2 1 4 1 1 1 13 1 21 1 10 1 5 1 3 2 11 2 5 3 3 1 1 1 2 1 3 2 2 1 9 1 11 1 16 1 10 1 5 1 18 2 7 1 3 1 5 1 8 2 5 1 1 1 11 1 15 1 13 1 5 1 1 1 9 1 7 1 5 3 14 1 15 1 8 1 1 4 11 1 16 1 8 1 3 1 14 1 5 1 18 2 24 1 3 1 1 3 3 1 6 2 1 2 3 2 7 1 3 1 1 1 1 2 3 1 7 1 2 3 1 2 4 2 3 2 1 3 2 2 4 2 2 1 3 1 1 1 7 2 2 1 9 1 4 2 1 3 5 1 3 2 5 3 4 1 17 1 2 1 4 1 16 2 12 1 1 4 6 1 8 3 3 1 4 1 3 1 3 1 3 1 6 1 2 2 8 1 8 1 7 1 5 1 5 2 4 2 4 3 15 1 4 1 1 1 3 2 17 1 4 2 11 1 3 1 20 2 17 3 1 1 1 1 1 2 1 1 2000" d="M0 361.5h938"/><path stroke="#eaf3fb" stroke-dasharray="0 298 1 19 1 178 1 41 1 138 1 87 1 163 1 2000" d="M0 361.5h938"/><path stroke="#e6f0fa" stroke-dasharray="0 145 1 2000" d="M0 361.5h938"/></g><linearGradient id="d14"><stop offset="0" stop-color="#0b225b"/><stop offset="0.5" stop-color="#0b225b"/><stop offset="1" stop-color="#0b2d6e"/></linearGradient><rect x="494.9" y="349" width="2" height="25" fill="url(#d14)"/><g stroke-width="25"><path stroke="#eff6fc" stroke-dasharray="0 0 3 2 4 1 1 5 1 2 1 7 2 3 3 6 3 4 3 1 1 2 3 6 1 1 2 5 3 2 2 5 2 4 1 1 4 1 2 4 1 3 1 3 1 1 3 2 1 2 1 2 1 7 1 2 2 7 7 1 1 5 3 2 4 3 3 6 1 1 1 2 1 2 1 11 2 17 2 4 2 2 2 2 1 4 1 1 1 1 2 2 1 1 2 1 3 4 1 2 1 1 1 1 1 5 1 19 1 23 1 1 3 4 1 4 1 1 2 6 1 19 1 17 1 40 1 24 1 2 1 4 1 14 1 4 2 1 3 1 1 3 1 3 4 105 1 12 2 19 2 4 1 5 1 2 1 3 7 4 1 2 1 1 1 4 1 2 2 58 2 1 3 3 2 1 2 1 2 7 3 1 1 1 2 5 3 47 1 16 1 2 1 1 1 1 2 3 1 9 1 2 3 4 3 2 2 1 1 9 1 6 1 4 1 1 2 2 2 3 2 1 2 1 1 3 1 2 1 4 1 3 1 3 1 2000" d="M0 386.5h938"/><path stroke="#eaf3fb" stroke-dasharray="0 9 1 34 1 52 1 23 1 10 1 35 1 12 1 5 1 2 1 8 1 21 1 17 1 10 1 39 1 1 1 3 1 53 1 4 1 2 1 17 1 26 1 3 1 3 1 1 1 5 1 13 1 2 1 4 1 2 2 1 1 4 1 1 2 3 1 10 1 8 1 10 1 1 1 101 1 1 1 2 1 4 1 17 3 2 2 5 1 1 1 3 1 2 1 3 1 7 3 2 1 4 1 2 1 1 2 3 1 46 2 1 1 2 2 4 1 3 1 7 1 4 1 7 1 4 2 2 1 5 1 25 1 24 2 3 1 52 1 15 1 3 1 14 1 2000" d="M0 386.5h938"/><path stroke="#e6f0fa" stroke-dasharray="0 152 1 33 1 11 1 89 1 4 1 1 1 1 1 16 1 15 1 13 1 4 1 1 1 4 1 3 1 1 1 3 1 2 1 4 1 21 1 7 2 2 1 3 1 7 1 2 1 2 1 2 1 2 1 1 2 1 1 4 1 7 1 6 1 6 1 8 1 7 1 9 1 99 1 5 1 5 1 3 1 2 1 2 3 5 1 4 1 4 1 7 1 2 1 3 1 14 1 1 1 53 1 6 1 6 1 7 2 8 1 68 1 1 1 8 1 1 2 9 1 2000" d="M0 386.5h938"/><path stroke="#e1edf8" stroke-dasharray="0 65 1 54 1 166 1 6 1 50 1 11 1 10 1 26 1 1 1 2 1 1 1 3 1 9 2 3 1 3 1 4 2 17 1 8 1 3 1 114 1 11 1 2 2 6 1 10 1 4 1 1 1 1 1 24 1 12 1 53 1 6 1 30 1 47 2 22 1 79 1 2000" d="M0 386.5h938"/><path stroke="#dceaf6" stroke-dasharray="0 307 1 5 1 38 1 10 1 3 1 2 2 1 1 4 1 3 1 6 1 1 1 6 1 2 1 20 1 46 1 10 1 107 1 12 1 3 2 10 1 7 1 6 1 34 1 8 1 39 1 3 2 4 2 64 1 2 1 5 1 10 4 11 2 6 1 2000" d="M0 386.5h938"/><path stroke="#d8e7f5" stroke-dasharray="0 195 1 76 1 13 1 53 1 5 1 1 1 15 1 14 1 10 1 3 1 19 1 9 1 14 2 12 1 2 1 4 1 5 2 104 1 2 1 1 1 7 1 11 1 13 1 6 1 46 1 10 1 27 1 5 1 18 1 65 1 19 2 2000" d="M0 386.5h938"/><path stroke="#d4e4f4" stroke-dasharray="0 193 1 2 1 101 1 1 1 11 1 28 1 5 1 13 1 13 1 5 1 11 1 5 1 15 1 22 1 9 1 11 1 88 1 21 1 18 1 11 1 101 1 82 1 5 1 3 1 5 2 2 1 25 1 2000" d="M0 386.5h938"/><path stroke="#cfe1f2" stroke-dasharray="0 285 1 13 1 6 1 73 1 5 1 40 2 34 1 101 1 1 1 2 1 10 1 51 1 3 1 68 1 11 1 70 1 1 1 2 1 7 1 20 2 2000" d="M0 386.5h938"/><path stroke="#cadef0" stroke-dasharray="0 194 1 88 2 68 1 33 1 162 1 12 1 2 1 13 1 108 1 9 1 105 2 1 1 1 2 2000" d="M0 386.5h938"/><path stroke="#c4daee" stroke-dasharray="0 192 1 96 1 11 1 63 1 6 1 12 1 2 1 138 1 24 1 11 1 3 1 13 1 1 2 52 1 46 1 6 1 3 1 11 1 1 1 64 1 45 1 2000" d="M0 386.5h938"/><path stroke="#bfd7ed" stroke-dasharray="0 197 1 110 1 237 1 40 1 91 1 7 1 5 1 19 1 95 1 24 1 2000" d="M0 386.5h938"/><path stroke="#bad4eb" stroke-dasharray="0 191 1 117 1 44 1 174 1 18 1 13 1 6 1 4 1 109 1 69 1 33 1 2000" d="M0 386.5h938"/><path stroke="#b5d0e9" stroke-dasharray="0 278 1 1 1 111 1 150 1 7 1 4 1 22 1 3 1 111 1 1 2 2000" d="M0 386.5h938"/><path stroke="#afcce7" stroke-dasharray="0 310 2 30 2 65 2 269 1 22 1 72 2 12 1 2000" d="M0 386.5h938"/><path stroke="#aac8e4" stroke-dasharray="0 279 1 22 1 225 1 25 2 16 1 209 1 3 1 2000" d="M0 386.5h938"/><path stroke="#a5c5e2" stroke-dasharray="0 682 1 3 1 20 1 2000" d="M0 386.5h938"/><path stroke="#9fc1e0" stroke-dasharray="0 531 1 146 1 2 1 9 1 8 1 1 1 6 1 2000" d="M0 386.5h938"/><path stroke="#9abdde" stroke-dasharray="0 276 1 253 1 6 1 19 1 2 1 122 1 4 1 5 1 2000" d="M0 386.5h938"/><path stroke="#94b8db" stroke-dasharray="0 303 1 236 1 1 1 1 1 8 1 231 1 2000" d="M0 386.5h938"/><path stroke="#8fb3d8" stroke-dasharray="0 383 2 148 1 11 1 1 1 10 1 16 1 125 1 13 1 191 1 2000" d="M0 386.5h938"/><path stroke="#89aed5" stroke-dasharray="0 538 1 22 1 216 1 1 1 2 1 2000" d="M0 386.5h938"/><path stroke="#83a9d2" stroke-dasharray="0 690 1 93 1 2000" d="M0 386.5h938"/><path stroke="#7ea4cf" stroke-dasharray="0 275 1 263 1 1 1 17 1 2000" d="M0 386.5h938"/><path stroke="#789fcc" stroke-dasharray="0 277 1 2000" d="M0 386.5h938"/><path stroke="#739ac7" stroke-dasharray="0 282 1 2000" d="M0 386.5h938"/><path stroke="#6e95c2" stroke-dasharray="0 274 1 30 1 475 1 2000" d="M0 386.5h938"/><path stroke="#6990be" stroke-dasharray="0 281 1 22 1 2000" d="M0 386.5h938"/><path stroke="#648ab9" stroke-dasharray="0 714 1 2000" d="M0 386.5h938"/><path stroke="#5a80b0" stroke-dasharray="0 273 1 2000" d="M0 386.5h938"/><path stroke="#557bab" stroke-dasharray="0 532 1 2000" d="M0 386.5h938"/><path stroke="#5076a6" stroke-dasharray="0 534 3 242 1 2000" d="M0 386.5h938"/></g><linearGradient id="d15"><stop offset="0" stop-color="#0b225b"/><stop offset="0.05" stop-color="#0b225b"/><stop offset="0.1" stop-color="#0b2a68"/><stop offset="0.14" stop-color="#1b5da6"/><stop offset="0.19" stop-color="#327cbb"/><stop offset="0.24" stop-color="#5198c9"/><stop offset="0.29" stop-color="#76b1d6"/><stop offset="0.33" stop-color="#84b9da"/><stop offset="0.38" stop-color="#91c1de"/><stop offset="0.43" stop-color="#9dc7e2"/><stop offset="0.48" stop-color="#a8cde6"/><stop offset="0.52" stop-color="#b3d2e9"/><stop offset="0.57" stop-color="#bad6ec"/><stop offset="0.62" stop-color="#c1d9ee"/><stop offset="0.67" stop-color="#c8ddf0"/><stop offset="0.71" stop-color="#cee1f2"/><stop offset="0.76" stop-color="#d2e3f3"/><stop offset="0.81" stop-color="#d6e6f4"/><stop offset="0.86" stop-color="#dae8f5"/><stop offset="0.9" stop-color="#deebf7"/><stop offset="0.95" stop-color="#e2eef8"/><stop offset="1" stop-color="#e7f0f9"/></linearGradient><rect x="496.7" y="374" width="30.7" height="25" fill="url(#d15)"/><g stroke-width="25"><path stroke="#eff6fc" stroke-dasharray="0 0 1 4 2 7 1 4 1 22 1 2 4 1 3 16 1 3 2 1 2 5 1 2 2 1 1 1 2 3 1 14 6 16 2 1 1 3 1 3 1 2 1 6 3 1 5 5 1 1 3 2 1 10 1 4 1 1 2 4 7 2 1 1 2 4 1 4 2 2 2 2 1 2 1 2 3 4 1 1 1 1 1 2 2 5 2 6 2 1 1 1 2 18 1 1 2 2 1 26 1 8 1 1 1 1 1 1 2 64 3 9 2 6 1 20 3 1 1 1 2 4 1 4 1 4 2 2 1 1 1 1 2 1 1 2 1 1 1 7 1 2 1 1 1 18 2 4 1 3 1 160 2 30 1 1 2 6 3 1 1 2 1 1 1 2 1 1 1 4 2 1 1 3 2 3 1 2 1 1 5 4 1 1 1 28 1 2 6 2 2 1 1 3 1 2 3 6 1 3 1 3 1 3 2 17 9 4 1 1 1 3 3 1 3 4 4 8 1 1 1 7 1 1 2 1 3 5 5 2000" d="M0 411.5h938"/><path stroke="#eaf3fb" stroke-dasharray="0 3 2 3 2 3 1 6 1 6 2 6 5 9 1 5 2 3 1 3 2 2 1 2 1 3 1 2 3 9 1 2 3 2 1 2 1 4 2 11 1 4 3 1 2 2 1 2 1 1 1 3 3 1 2 1 2 3 1 3 1 8 1 6 1 2 1 1 3 2 3 2 1 1 1 1 1 4 1 16 1 23 1 2 1 46 1 13 1 29 1 1 1 4 1 16 2 3 1 4 1 1 1 5 3 34 1 2 1 7 1 1 1 1 1 6 2 4 2 6 1 4 2 37 1 4 1 1 1 8 1 5 1 5 1 158 1 37 1 1 1 16 1 16 1 22 1 12 2 10 2 2 1 22 2 5 2 42 1 1 1 1 1 2000" d="M0 411.5h938"/><path stroke="#e6f0fa" stroke-dasharray="0 2 1 4 1 7 1 5 1 1 1 2 1 4 1 1 2 5 2 1 2 8 2 2 1 1 1 3 1 3 1 4 1 9 1 1 2 11 1 2 1 1 2 16 1 6 1 2 1 7 2 12 1 10 1 1 1 1 1 6 1 6 1 86 1 18 1 27 1 28 1 7 1 2 1 3 2 6 1 4 1 22 1 3 4 3 3 1 1 6 2 8 1 3 2 8 2 28 1 4 1 27 1 1 1 3 3 4 1 3 1 1 1 1 1 167 1 5 1 76 1 9 2 3 1 6 1 3 1 2000" d="M0 411.5h938"/><path stroke="#e1edf8" stroke-dasharray="0 10 1 1 1 5 1 3 1 1 1 4 2 35 1 3 1 33 2 3 1 7 1 5 1 7 1 18 1 13 1 17 1 32 1 93 1 1 1 2 1 43 1 3 1 1 2 3 3 6 1 6 1 7 2 17 2 7 1 13 1 2 1 4 1 48 1 8 1 1 1 1 1 3 1 6 1 177 1 2 2 14 1 36 2 31 1 6 1 1 1 3 2 1 1 2000" d="M0 411.5h938"/><path stroke="#dceaf6" stroke-dasharray="0 11 1 4 1 8 1 32 1 51 1 7 1 58 1 94 1 35 1 1 1 5 1 4 1 21 1 29 1 3 1 8 1 3 1 34 1 3 2 68 1 8 1 9 1 7 1 173 1 10 2 1 1 62 1 3 1 13 1 9 1 75 1 2000" d="M0 411.5h938"/><path stroke="#d8e7f5" stroke-dasharray="0 1 1 79 1 40 1 163 1 30 1 27 1 3 1 3 1 9 1 15 1 11 1 27 1 8 1 7 1 258 1 82 1 3 1 1 1 8 1 2000" d="M0 411.5h938"/><path stroke="#d4e4f4" stroke-dasharray="0 61 1 46 1 80 1 129 1 31 1 28 1 8 1 6 1 1 1 38 1 62 1 1 1 184 1 27 1 64 1 13 1 2000" d="M0 411.5h938"/><path stroke="#cfe1f2" stroke-dasharray="0 32 1 66 1 254 1 29 1 137 1 169 1 17 1 68 1 5 1 2000" d="M0 411.5h938"/><path stroke="#cadef0" stroke-dasharray="0 17 1 133 1 188 1 5 1 1 1 43 1 4 1 306 2 2000" d="M0 411.5h938"/><path stroke="#c4daee" stroke-dasharray="0 121 1 181 1 9 1 6 1 67 1 31 1 275 1 2000" d="M0 411.5h938"/><path stroke="#bfd7ed" stroke-dasharray="0 62 1 249 1 5 1 62 1 2000" d="M0 411.5h938"/><path stroke="#bad4eb" stroke-dasharray="0 341 1 5 1 149 1 205 1 2000" d="M0 411.5h938"/><path stroke="#b5d0e9" stroke-dasharray="0 275 1 1 2 25 1 404 1 2000" d="M0 411.5h938"/><path stroke="#afcce7" stroke-dasharray="0 274 1 112 1 21 1 497 1 2000" d="M0 411.5h938"/><path stroke="#aac8e4" stroke-dasharray="0 283 1 23 1 34 1 39 1 306 1 2000" d="M0 411.5h938"/><path stroke="#a5c5e2" stroke-dasharray="0 284 1 2000" d="M0 411.5h938"/><path stroke="#9fc1e0" stroke-dasharray="0 282 1 100 1 306 1 15 1 2000" d="M0 411.5h938"/><path stroke="#9abdde" stroke-dasharray="0 276 1 28 1 44 1 340 1 10 1 5 1 2000" d="M0 411.5h938"/><path stroke="#94b8db" stroke-dasharray="0 688 1 2000" d="M0 411.5h938"/><path stroke="#89aed5" stroke-dasharray="0 306 1 394 1 5 1 2000" d="M0 411.5h938"/><path stroke="#83a9d2" stroke-dasharray="0 273 1 2000" d="M0 411.5h938"/><path stroke="#6e95c2" stroke-dasharray="0 280 1 4 1 2000" d="M0 411.5h938"/><path stroke="#6990be" stroke-dasharray="0 279 1 1 1 2000" d="M0 411.5h938"/></g><linearGradient id="d16"><stop offset="0" stop-color="#0b225b"/><stop offset="0.01" stop-color="#0b225b"/><stop offset="0.02" stop-color="#0b225b"/><stop offset="0.03" stop-color="#0b225b"/><stop offset="0.04" stop-color="#0b225b"/><stop offset="0.05" stop-color="#0b225b"/><stop offset="0.06" stop-color="#0b225b"/><stop offset="0.07" stop-color="#0b225b"/><stop offset="0.08" stop-color="#0b225b"/><stop offset="0.09" stop-color="#0b225b"/><stop offset="0.1" stop-color="#0b225b"/><stop offset="0.11" stop-color="#0b225b"/><stop offset="0.12" stop-color="#0b225b"/><stop offset="0.13" stop-color="#0b225b"/><stop offset="0.14" stop-color="#0b225b"/><stop offset="0.15" stop-color="#0b225b"/><stop offset="0.16" stop-color="#0b225b"/><stop offset="0.17" stop-color="#0b225b"/><stop offset="0.18" stop-color="#0b225b"/><stop offset="0.19" stop-color="#0b225b"/><stop offset="0.2" stop-color="#0b225b"/><stop offset="0.21" stop-color="#0b225b"/><stop offset="0.22" stop-color="#0b225b"/><stop offset="0.23" stop-color="#0b225b"/><stop offset="0.24" stop-color="#0b225b"/><stop offset="0.25" stop-color="#0b225b"/><stop offset="0.26" stop-color="#0b225b"/><stop offset="0.27" stop-color="#0b225b"/><stop offset="0.28" stop-color="#0b225b"/><stop offset="0.29" stop-color="#0b225b"/><stop offset="0.3" stop-color="#0b225b"/><stop offset="0.31" stop-color="#0b225b"/><stop offset="0.32" stop-color="#0c367c"/><stop offset="0.33" stop-color="#0c387f"/><stop offset="0.34" stop-color="#0c3a82"/><stop offset="0.35" stop-color="#0d3d87"/><stop offset="0.36" stop-color="#0f438e"/><stop offset="0.37" stop-color="#124a95"/><stop offset="0.38" stop-color="#16519c"/><stop offset="0.39" stop-color="#1958a2"/><stop offset="0.4" stop-color="#1c5ea7"/><stop offset="0.41" stop-color="#2266ac"/><stop offset="0.42" stop-color="#276db1"/><stop offset="0.43" stop-color="#2d75b6"/><stop offset="0.44" stop-color="#337dbc"/><stop offset="0.45" stop-color="#3a84c0"/><stop offset="0.46" stop-color="#428bc3"/><stop offset="0.47" stop-color="#4a92c6"/><stop offset="0.48" stop-color="#5399ca"/><stop offset="0.49" stop-color="#5ba0cd"/><stop offset="0.5" stop-color="#60a3cf"/><stop offset="0.5" stop-color="#65a6d0"/><stop offset="0.51" stop-color="#6aa9d2"/><stop offset="0.52" stop-color="#6fadd3"/><stop offset="0.53" stop-color="#74b0d5"/><stop offset="0.54" stop-color="#79b3d7"/><stop offset="0.55" stop-color="#7eb6d8"/><stop offset="0.56" stop-color="#83b9da"/><stop offset="0.57" stop-color="#88bcdc"/><stop offset="0.58" stop-color="#8dbfdd"/><stop offset="0.59" stop-color="#92c1df"/><stop offset="0.6" stop-color="#96c3e0"/><stop offset="0.61" stop-color="#9ac6e1"/><stop offset="0.62" stop-color="#9ec8e3"/><stop offset="0.63" stop-color="#a3cae4"/><stop offset="0.64" stop-color="#a7cce5"/><stop offset="0.65" stop-color="#abcee7"/><stop offset="0.66" stop-color="#afd0e8"/><stop offset="0.67" stop-color="#b3d2e9"/><stop offset="0.68" stop-color="#b6d4ea"/><stop offset="0.69" stop-color="#b9d5eb"/><stop offset="0.7" stop-color="#bbd6ec"/><stop offset="0.71" stop-color="#bed8ed"/><stop offset="0.72" stop-color="#c0d9ed"/><stop offset="0.73" stop-color="#c3daee"/><stop offset="0.74" stop-color="#c5dcef"/><stop offset="0.75" stop-color="#c8ddf0"/><stop offset="0.76" stop-color="#cadef1"/><stop offset="0.77" stop-color="#cde0f1"/><stop offset="0.78" stop-color="#cfe1f2"/><stop offset="0.79" stop-color="#d1e2f3"/><stop offset="0.8" stop-color="#d3e4f3"/><stop offset="0.81" stop-color="#d5e5f4"/><stop offset="0.82" stop-color="#d7e6f4"/><stop offset="0.83" stop-color="#d9e7f5"/><stop offset="0.84" stop-color="#dbe9f6"/><stop offset="0.85" stop-color="#ddeaf6"/><stop offset="0.86" stop-color="#dfebf7"/><stop offset="0.87" stop-color="#e1ecf7"/><stop offset="0.88" stop-color="#e3eef8"/><stop offset="0.89" stop-color="#e4eef8"/><stop offset="0.9" stop-color="#e4eff8"/><stop offset="0.91" stop-color="#e5eff9"/><stop offset="0.92" stop-color="#e6f0f9"/><stop offset="0.93" stop-color="#e7f0f9"/><stop offset="0.94" stop-color="#e7f1f9"/><stop offset="0.95" stop-color="#e8f1fa"/><stop offset="0.96" stop-color="#e9f2fa"/><stop offset="0.97" stop-color="#eaf2fa"/><stop offset="0.98" stop-color="#eaf3fa"/><stop offset="0.99" stop-color="#ebf3fb"/><stop offset="1" stop-color="#ecf4fb"/></linearGradient><rect x="527.4" y="399" width="150.9" height="25" fill="url(#d16)"/><g stroke-width="24"><path stroke="#eff6fc" stroke-dasharray="0 3 2 1 2 2 1 2 1 1 6 6 5 6 1 5 1 3 1 3 1 2 1 4 2 2 1 5 7 3 1 9 1 5 3 10 1 3 1 1 1 7 1 12 3 5 1 9 3 2 3 2 1 1 1 1 1 3 1 5 1 2 1 2 3 7 1 6 2 5 2 2 1 1 2 13 3 2 1 3 1 1 2 1 3 2 3 2 2 3 1 8 1 2 1 7 1 3 3 7 1 2 1 14 3 2 2 4 2 2 1 9 2 11 1 4 1 1 1 1 2 2 2 2 1 1 1 3 1 2 2 1 1 7 1 3 1 4 2 14 3 2 1 2 2 1 1 14 2 4 1 4 2 2 1 6 2 2 2 10 1 12 3 15 2 3 3 4 1 4 1 2 1 14 2 7 1 7 1 4 1 1 1 5 2 2 1 7 5 4 2 7 1 2 1 3 1 12 3 8 1 3 2 16 1 6 1 3 1 1 1 3 1 15 2 3 6 6 1 2 1 4 1 3 1 19 2 4 1 5 1 1 1 3 2 4 1 17 1 2 1 1 1 1 1 2 2 2 2 2 1 2 1 2 1 1 2 6 1 9 1 2 1 5 2 8 1 1 1 1 1 5 1 5 3 6 1 2 4 11 1 3 1 5 1 7 1 9 1 9 2 6 1 2 1 2000" d="M0 436h938"/><path stroke="#eaf3fb" stroke-dasharray="0 69 1 33 1 109 1 133 1 6 1 33 1 31 1 51 2 158 1 38 1 109 1 20 1 2000" d="M0 436h938"/><path stroke="#e6f0fa" stroke-dasharray="0 366 1 2000" d="M0 436h938"/></g><linearGradient id="d17"><stop offset="0" stop-color="#0b225b"/><stop offset="0.25" stop-color="#0b225b"/><stop offset="0.5" stop-color="#0b225b"/><stop offset="0.75" stop-color="#3a84c0"/><stop offset="1" stop-color="#e3eef8"/></linearGradient><rect x="678.1" y="424" width="5.4" height="24" fill="url(#d17)"/><g stroke-width="25"><path stroke="#eff6fc" stroke-dasharray="0 8 3 1 1 1 1 1 4 6 1 1 2 3 3 4 1 1 1 1 1 3 1 5 2 3 1 1 1 4 3 5 1 1 1 6 4 2 1 3 5 3 1 9 1 2 1 1 1 2 1 3 1 1 4 7 3 8 1 3 1 4 1 3 4 1 1 1 1 3 2 2 1 4 1 2 2 1 1 2 2 12 2 2 1 1 1 4 1 1 1 1 1 1 1 1 1 3 1 6 1 1 2 1 2 4 2 1 3 1 2 1 1 1 2 4 3 3 4 3 1 1 1 1 1 3 4 1 1 2 2 1 1 2 1 1 3 3 1 1 1 1 1 1 1 4 1 1 2 2 2 1 1 1 1 1 1 1 1 2 2 3 2 1 1 15 1 11 3 1 1 1 1 1 6 1 2 7 2 1 1 1 1 4 4 2 1 5 2 1 2 1 2 7 1 2 1 1 1 6 4 6 2 1 3 1 1 2 1 3 1 3 2 5 1 4 6 3 4 1 1 1 1 1 1 7 1 1 2 2 1 1 1 10 1 4 3 3 1 2 1 1 1 5 3 4 4 1 1 2 1 1 1 2 1 2 1 1 8 1 1 2 7 5 2 2 1 2 1 7 2 1 2 1 2 1 1 1 1 3 1 3 5 1 1 3 1 1 1 8 1 1 1 7 2 3 1 5 2 1 1 4 1 69 1 1 1 2 2 15 1 1 2 4 4 2 2 1 2 1 1 1 1 2 2 5 3 8 6 1 2 1 1 2 1 3 1 1 1 1 1 12 2 2 4 1 1 2 2 2 3 2 1 1 1 4 2 1 1 4 3 2 1 6 3 1 3 2 1 1 5 5 1 1 2 1 1 1 2 2 5 2000" d="M0 460.5h938"/><path stroke="#eaf3fb" stroke-dasharray="0 1 1 1 5 7 1 7 1 1 1 6 1 12 1 1 1 1 1 7 2 4 1 1 1 3 2 4 1 1 1 3 2 4 2 3 1 10 1 3 1 7 1 8 1 14 1 4 3 17 1 14 1 5 1 2 1 5 1 3 1 2 1 6 1 8 1 3 1 15 1 34 1 3 1 10 1 1 2 2 1 4 1 3 1 3 1 19 1 3 1 26 1 4 1 2 5 5 1 14 1 7 1 1 1 20 1 10 1 2 1 11 2 6 1 17 1 5 1 38 1 7 2 21 1 16 1 7 1 8 1 32 1 5 1 1 1 5 3 5 1 10 2 2 1 125 2 13 1 7 1 27 1 29 1 13 1 16 2 17 1 5 3 6 1 1 1 2000" d="M0 460.5h938"/><path stroke="#e6f0fa" stroke-dasharray="0 0 1 12 1 6 1 3 1 5 1 5 2 1 1 1 1 4 1 3 1 1 1 3 1 7 1 8 1 16 2 6 3 3 2 4 1 82 1 116 1 21 1 8 1 1 1 1 1 3 1 3 1 5 1 1 1 1 1 9 1 3 1 118 1 3 1 15 1 127 1 184 1 6 1 85 1 2000" d="M0 460.5h938"/><path stroke="#e1edf8" stroke-dasharray="0 2 1 18 1 29 1 1 1 8 1 9 1 6 2 25 1 1 1 88 1 1 1 34 1 11 1 31 1 67 2 3 2 1 2 154 1 90 2 2000" d="M0 460.5h938"/><path stroke="#dceaf6" stroke-dasharray="0 71 1 119 2 60 1 79 1 10 1 3 1 1 1 9 1 2000" d="M0 460.5h938"/><path stroke="#d8e7f5" stroke-dasharray="0 22 1 8 1 163 1 2000" d="M0 460.5h938"/><path stroke="#d4e4f4" stroke-dasharray="0 38 1 70 1 90 1 163 1 2000" d="M0 460.5h938"/><path stroke="#cfe1f2" stroke-dasharray="0 78 1 2000" d="M0 460.5h938"/><path stroke="#c4daee" stroke-dasharray="0 356 1 2000" d="M0 460.5h938"/><path stroke="#bad4eb" stroke-dasharray="0 196 1 2000" d="M0 460.5h938"/><path stroke="#afcce7" stroke-dasharray="0 752 1 2000" d="M0 460.5h938"/><path stroke="#a5c5e2" stroke-dasharray="0 907 1 23 1 2000" d="M0 460.5h938"/><path stroke="#83a9d2" stroke-dasharray="0 776 1 2000" d="M0 460.5h938"/></g><linearGradient id="d18"><stop offset="0" stop-color="#0b225b"/><stop offset="0.02" stop-color="#0b225b"/><stop offset="0.05" stop-color="#0b225b"/><stop offset="0.07" stop-color="#0b225b"/><stop offset="0.09" stop-color="#0b225b"/><stop offset="0.11" stop-color="#0b225b"/><stop offset="0.14" stop-color="#0b225b"/><stop offset="0.16" stop-color="#0b225b"/><stop offset="0.18" stop-color="#0b225b"/><stop offset="0.2" stop-color="#0b225b"/><stop offset="0.23" stop-color="#0b225b"/><stop offset="0.25" stop-color="#0b225b"/><stop offset="0.27" stop-color="#0b225b"/><stop offset="0.3" stop-color="#0b225b"/><stop offset="0.32" stop-color="#0b2d6d"/><stop offset="0.34" stop-color="#0d3b85"/><stop offset="0.36" stop-color="#0e418c"/><stop offset="0.39" stop-color="#114893"/><stop offset="0.41" stop-color="#15509a"/><stop offset="0.43" stop-color="#1858a2"/><stop offset="0.45" stop-color="#1e61a9"/><stop offset="0.48" stop-color="#256bb0"/><stop offset="0.5" stop-color="#2d75b7"/><stop offset="0.52" stop-color="#357fbe"/><stop offset="0.55" stop-color="#3f89c2"/><stop offset="0.57" stop-color="#4a92c6"/><stop offset="0.59" stop-color="#559bca"/><stop offset="0.61" stop-color="#5ea2ce"/><stop offset="0.64" stop-color="#66a7d1"/><stop offset="0.66" stop-color="#6eacd3"/><stop offset="0.68" stop-color="#76b1d6"/><stop offset="0.7" stop-color="#7eb6d8"/><stop offset="0.73" stop-color="#86bbdb"/><stop offset="0.75" stop-color="#8ebfdd"/><stop offset="0.77" stop-color="#98c4e1"/><stop offset="0.8" stop-color="#a2c9e4"/><stop offset="0.82" stop-color="#accee7"/><stop offset="0.84" stop-color="#b5d3ea"/><stop offset="0.86" stop-color="#bcd7ec"/><stop offset="0.89" stop-color="#c5dbef"/><stop offset="0.91" stop-color="#d0e2f2"/><stop offset="0.93" stop-color="#dae8f5"/><stop offset="0.95" stop-color="#e3eef8"/><stop offset="0.98" stop-color="#e9f1fa"/><stop offset="1" stop-color="#ecf4fb"/></linearGradient><rect x="687" y="448" width="65" height="25" fill="url(#d18)"/><g stroke-width="25"><path stroke="#eff6fc" stroke-dasharray="0 1 2 6 1 3 2 2 2 2 2 3 2 3 1 3 2 5 1 2 1 4 1 11 1 7 1 2 4 7 1 7 1 4 1 2 1 3 1 13 1 1 1 6 1 1 1 3 1 3 1 1 1 1 2 2 1 1 2 4 1 7 1 3 4 3 1 3 4 4 3 2 1 1 4 6 1 3 2 4 2 34 3 3 1 1 3 14 2 1 1 1 1 16 2 3 1 2 3 8 3 2 1 2 1 1 2 10 2 1 8 5 2 1 1 3 4 1 3 2 1 1 1 7 3 5 5 1 1 1 1 2 3 11 1 3 1 2 3 7 1 2 3 8 1 3 2 2 1 13 1 3 2 5 1 6 1 1 1 1 1 3 1 5 1 1 1 1 1 1 3 1 2 3 1 2 1 1 1 4 2 5 1 1 1 4 2 2 1 4 2 2 2 2 2 2 2 9 1 12 1 1 1 4 1 3 2 5 2 4 2 5 4 3 1 10 1 2 2 3 1 1 1 3 1 1 2 7 2 4 2 1 1 7 1 4 1 3 1 4 1 2 2 1 2 2 1 4 1 1 2 4 1 12 1 7 2 1 1 3 3 2 2 4 1 30 1 5 1 3 1 3 1 1 1 1 2 8 3 3 2 2 1 1 1 5 2 3 1 1 2 6 4 1 1 3 2 5 2 3 1 2 1 1 2 11 1 10 1 7 2 13 1 3 1 1 1 4 3 2000" d="M0 485.5h938"/><path stroke="#eaf3fb" stroke-dasharray="0 60 1 58 1 18 1 198 1 31 1 2 1 53 1 54 1 1 1 21 1 31 2 37 1 53 2 30 1 68 1 7 1 77 1 10 1 2000" d="M0 485.5h938"/><path stroke="#e6f0fa" stroke-dasharray="0 61 1 365 1 2000" d="M0 485.5h938"/><path stroke="#cfe1f2" stroke-dasharray="0 329 2 166 1 2000" d="M0 485.5h938"/></g><linearGradient id="d19"><stop offset="0" stop-color="#0b225b"/><stop offset="0.06" stop-color="#0b225b"/><stop offset="0.12" stop-color="#0b225b"/><stop offset="0.19" stop-color="#114893"/><stop offset="0.25" stop-color="#5ba0cd"/><stop offset="0.31" stop-color="#99c5e1"/><stop offset="0.38" stop-color="#b9d5eb"/><stop offset="0.44" stop-color="#c1daee"/><stop offset="0.5" stop-color="#c9def0"/><stop offset="0.56" stop-color="#d0e2f2"/><stop offset="0.62" stop-color="#d3e4f3"/><stop offset="0.69" stop-color="#d6e6f4"/><stop offset="0.75" stop-color="#d9e8f5"/><stop offset="0.81" stop-color="#dceaf6"/><stop offset="0.88" stop-color="#e0ecf7"/><stop offset="0.94" stop-color="#e3eef8"/><stop offset="1" stop-color="#e7f0f9"/></linearGradient><rect x="751.8" y="473" width="23.4" height="25" fill="url(#d19)"/><g stroke-width="25"><path stroke="#eff6fc" stroke-dasharray="0 2 1 1 1 4 2 1 1 1 1 1 2 1 5 2 6 2 2 2 3 1 1 1 2 3 1 2 1 1 3 3 1 1 1 3 1 1 1 2 1 1 1 5 2 5 2 2 2 1 1 1 3 4 1 1 1 2 1 1 1 2 1 2 1 2 1 4 2 2 1 1 4 1 2 2 1 1 1 2 2 2 2 1 2 2 2 1 1 2 1 1 2 1 1 1 2 2 1 3 1 1 3 2 1 7 1 1 1 4 1 7 2 4 1 1 3 1 3 3 1 12 1 1 1 1 1 1 2 6 2 1 1 3 2 4 4 4 1 1 2 8 4 1 3 3 1 1 3 1 1 4 2 1 1 5 1 1 1 4 2 6 2 1 1 1 2 3 1 9 1 7 1 12 1 1 2 3 1 17 2 4 1 4 1 30 3 4 2 5 2 4 1 3 6 3 3 1 1 4 2 4 2 3 1 1 4 6 1 4 2 1 3 18 5 6 4 2 3 2 2 1 1 6 1 1 1 1 4 7 3 1 1 5 1 1 1 3 2 1 2 1 2 1 1 1 1 1 5 3 1 5 3 2 1 3 4 2 2 4 2 1 1 1 1 6 1 4 1 2 3 1 1 1 1 4 1 1 1 1 2 2 1 1 1 2 1 7 1 1 1 14 1 1 2 4 2 2 2 1 7 2 1 1 1 5 2 1 1 2 1 8 1 1 1 1 1 1 1 7 3 146 2 1 1 2 2 2 1 2 1 2000" d="M0 510.5h938"/><path stroke="#eaf3fb" stroke-dasharray="0 1 1 3 2 6 1 29 1 3 1 13 1 12 1 19 1 18 2 2 1 15 1 32 1 2 1 42 1 3 1 4 2 8 2 4 1 37 1 19 1 7 2 10 1 7 1 7 1 18 1 4 2 1 2 2 3 1 2 1 1 1 1 2 1 1 1 1 1 18 1 2 1 1 1 1 1 21 1 1 2 4 1 8 1 2 1 6 2 1 1 1 1 1 1 6 1 7 2 10 1 3 1 9 1 1 1 2 1 2 1 3 2 1 1 2 3 1 1 3 2 7 1 1 1 8 1 3 1 5 2 1 1 5 1 4 1 2 1 6 1 3 1 1 1 1 1 1 1 1 1 5 1 4 1 11 3 8 1 7 1 4 2 2 1 5 1 1 2 4 1 2 1 7 1 4 1 1 1 20 1 10 1 3 1 27 1 6 1 13 1 144 1 6 1 2000" d="M0 510.5h938"/><path stroke="#e6f0fa" stroke-dasharray="0 67 1 48 1 74 1 85 2 20 1 40 2 2 1 2 2 5 1 10 1 9 1 18 1 10 1 1 1 12 1 6 1 3 3 2 1 11 1 1 1 18 1 3 1 7 1 2 1 4 1 15 1 9 1 2 1 3 1 7 1 6 1 14 1 8 2 10 1 1 1 1 1 5 2 27 1 1 1 5 1 8 1 8 2 8 1 2 1 3 2 8 1 4 1 1 1 20 1 1 1 11 1 2 1 40 1 156 2 10 1 2 1 2000" d="M0 510.5h938"/><path stroke="#e1edf8" stroke-dasharray="0 279 1 63 1 2 1 13 1 7 1 10 4 15 1 12 1 18 1 9 1 18 1 18 1 38 1 6 1 15 2 13 1 3 1 74 1 14 1 7 1 2 1 29 1 14 1 42 1 8 1 154 1 5 1 2000" d="M0 510.5h938"/><path stroke="#dceaf6" stroke-dasharray="0 46 1 1 1 90 1 30 1 171 1 2 1 5 2 50 1 6 1 4 1 3 1 5 1 9 1 5 1 13 1 21 1 10 1 7 1 28 1 3 1 16 1 25 1 13 1 5 1 26 1 71 1 62 1 159 1 1 2 2000" d="M0 510.5h938"/><path stroke="#d8e7f5" stroke-dasharray="0 361 1 23 1 5 2 28 1 20 1 4 1 35 1 55 1 36 1 112 1 2 1 11 1 1 1 2 1 2000" d="M0 510.5h938"/><path stroke="#d4e4f4" stroke-dasharray="0 276 1 3 1 72 1 33 1 11 1 12 1 10 1 25 1 54 1 21 1 86 1 14 1 58 1 15 1 49 1 2000" d="M0 510.5h938"/><path stroke="#cfe1f2" stroke-dasharray="0 282 1 105 1 1 1 2 1 15 1 278 1 9 1 2 1 209 1 7 1 2000" d="M0 510.5h938"/><path stroke="#cadef0" stroke-dasharray="0 413 1 8 1 45 1 13 1 188 1 83 1 154 1 2000" d="M0 510.5h938"/><path stroke="#c4daee" stroke-dasharray="0 408 1 7 1 7 1 2000" d="M0 510.5h938"/><path stroke="#bfd7ed" stroke-dasharray="0 383 2 1 1 2 1 110 1 199 1 1 1 2000" d="M0 510.5h938"/><path stroke="#bad4eb" stroke-dasharray="0 414 1 3 1 280 1 2000" d="M0 510.5h938"/><path stroke="#b5d0e9" stroke-dasharray="0 915 1 2000" d="M0 510.5h938"/><path stroke="#a5c5e2" stroke-dasharray="0 752 1 3 1 150 1 2000" d="M0 510.5h938"/><path stroke="#94b8db" stroke-dasharray="0 281 1 2000" d="M0 510.5h938"/><path stroke="#8fb3d8" stroke-dasharray="0 417 1 79 1 2000" d="M0 510.5h938"/><path stroke="#89aed5" stroke-dasharray="0 498 2 2000" d="M0 510.5h938"/></g><linearGradient id="d20"><stop offset="0" stop-color="#0b225b"/><stop offset="0.01" stop-color="#0b225b"/><stop offset="0.02" stop-color="#0b225b"/><stop offset="0.03" stop-color="#0b225b"/><stop offset="0.05" stop-color="#0b225b"/><stop offset="0.06" stop-color="#0b225b"/><stop offset="0.07" stop-color="#0b225b"/><stop offset="0.08" stop-color="#0b225b"/><stop offset="0.09" stop-color="#0b225b"/><stop offset="0.1" stop-color="#0b225b"/><stop offset="0.11" stop-color="#0b225b"/><stop offset="0.12" stop-color="#0b225b"/><stop offset="0.14" stop-color="#0b225b"/><stop offset="0.15" stop-color="#0b225b"/><stop offset="0.16" stop-color="#0b225b"/><stop offset="0.17" stop-color="#0c3a82"/><stop offset="0.18" stop-color="#0d3e89"/><stop offset="0.19" stop-color="#104690"/><stop offset="0.2" stop-color="#144e98"/><stop offset="0.22" stop-color="#1856a0"/><stop offset="0.23" stop-color="#1e60a8"/><stop offset="0.24" stop-color="#256bb0"/><stop offset="0.25" stop-color="#2d75b7"/><stop offset="0.26" stop-color="#357fbe"/><stop offset="0.27" stop-color="#3f89c2"/><stop offset="0.28" stop-color="#4a91c6"/><stop offset="0.3" stop-color="#549aca"/><stop offset="0.31" stop-color="#5ea2ce"/><stop offset="0.32" stop-color="#67a8d1"/><stop offset="0.33" stop-color="#70add4"/><stop offset="0.34" stop-color="#79b3d7"/><stop offset="0.35" stop-color="#82b8d9"/><stop offset="0.36" stop-color="#8bbedc"/><stop offset="0.38" stop-color="#91c1de"/><stop offset="0.39" stop-color="#97c4e0"/><stop offset="0.4" stop-color="#9dc7e2"/><stop offset="0.41" stop-color="#a3cae4"/><stop offset="0.42" stop-color="#a8cde6"/><stop offset="0.43" stop-color="#adcfe7"/><stop offset="0.44" stop-color="#b1d1e9"/><stop offset="0.45" stop-color="#b5d3ea"/><stop offset="0.47" stop-color="#b8d5eb"/><stop offset="0.48" stop-color="#bbd6ec"/><stop offset="0.49" stop-color="#bed8ed"/><stop offset="0.5" stop-color="#c0d9ed"/><stop offset="0.51" stop-color="#c1daee"/><stop offset="0.52" stop-color="#c3daee"/><stop offset="0.53" stop-color="#c4dbef"/><stop offset="0.55" stop-color="#c5dcef"/><stop offset="0.56" stop-color="#c6dcef"/><stop offset="0.57" stop-color="#c8ddf0"/><stop offset="0.58" stop-color="#c9def0"/><stop offset="0.59" stop-color="#cadef1"/><stop offset="0.6" stop-color="#ccdff1"/><stop offset="0.61" stop-color="#cde0f1"/><stop offset="0.62" stop-color="#cee1f2"/><stop offset="0.64" stop-color="#cfe1f2"/><stop offset="0.65" stop-color="#d0e2f2"/><stop offset="0.66" stop-color="#d1e2f2"/><stop offset="0.67" stop-color="#d1e2f3"/><stop offset="0.68" stop-color="#d2e3f3"/><stop offset="0.69" stop-color="#d3e3f3"/><stop offset="0.7" stop-color="#d3e4f3"/><stop offset="0.72" stop-color="#d4e4f3"/><stop offset="0.73" stop-color="#d4e5f4"/><stop offset="0.74" stop-color="#d5e5f4"/><stop offset="0.75" stop-color="#d6e5f4"/><stop offset="0.76" stop-color="#d6e6f4"/><stop offset="0.77" stop-color="#d7e6f4"/><stop offset="0.78" stop-color="#d8e7f5"/><stop offset="0.8" stop-color="#d9e8f5"/><stop offset="0.81" stop-color="#dae8f5"/><stop offset="0.82" stop-color="#dbe9f6"/><stop offset="0.83" stop-color="#dceaf6"/><stop offset="0.84" stop-color="#ddeaf6"/><stop offset="0.85" stop-color="#deebf7"/><stop offset="0.86" stop-color="#dfebf7"/><stop offset="0.88" stop-color="#e0ecf7"/><stop offset="0.89" stop-color="#e1edf7"/><stop offset="0.9" stop-color="#e2edf8"/><stop offset="0.91" stop-color="#e3eef8"/><stop offset="0.92" stop-color="#e4eef8"/><stop offset="0.93" stop-color="#e4eff8"/><stop offset="0.94" stop-color="#e5eff9"/><stop offset="0.95" stop-color="#e6f0f9"/><stop offset="0.97" stop-color="#e6f0f9"/><stop offset="0.98" stop-color="#e7f0f9"/><stop offset="0.99" stop-color="#e8f1fa"/><stop offset="1" stop-color="#e8f1fa"/></linearGradient><rect x="775.3" y="498" width="130.9" height="25" fill="url(#d20)"/><g stroke-width="25"><path stroke="#eff6fc" stroke-dasharray="0 0 1 4 2 1 1 5 4 1 3 4 1 6 2 5 1 2 1 3 1 7 1 3 1 2 1 1 1 4 3 2 1 1 1 1 1 2 6 1 1 2 1 3 2 3 2 2 3 8 3 10 2 3 1 1 2 6 1 2 3 5 1 3 2 3 1 1 1 1 1 12 1 2 8 1 3 4 1 7 1 1 1 1 1 4 2 2 1 1 1 2 1 2 2 1 1 1 1 4 4 1 4 9 1 1 2 1 2 1 3 2 3 10 2 1 1 3 1 2 4 1 1 1 1 6 1 9 1 5 1 5 4 5 1 1 2 1 1 1 1 2 1 10 6 1 1 3 1 3 1 2 1 1 2 26 1 6 3 6 7 3 1 1 2 1 6 2 1 4 1 2 1 4 2 1 1 3 3 2 4 1 1 5 1 1 1 3 1 3 1 1 3 10 3 3 2 3 6 3 3 4 2 2 2 4 3 2 1 1 2 5 1 2 1 6 1 3 1 2 1 4 2 4 1 2 1 1 1 1 1 3 1 1 3 1 4 6 2 1 1 1 1 5 2 4 2 1 1 6 5 4 1 6 2 2 2 1 9 5 5 1 1 4 2 1 1 8 3 3 2 9 3 2 1 1 1 1 1 1 3 4 2 13 2 3 1 1 3 5 2 6 2 39 1 1 1 1 1 13 1 10 4 2 3 6 1 3 1 4 1 1 2 1 4 5 3 5 1 5 4 5 2 21 1 2 2 2 1 1 1 2000" d="M0 535.5h938"/><path stroke="#eaf3fb" stroke-dasharray="0 63 1 25 2 43 1 22 1 8 1 2 1 8 1 45 1 32 1 2 1 7 1 3 1 18 1 49 1 22 1 3 1 11 1 13 1 3 1 1 2 2 1 16 1 46 1 27 1 7 1 9 3 14 2 25 2 26 1 4 1 26 1 100 1 2 1 32 1 7 1 27 1 18 1 1 1 1 1 1 1 1 1 22 1 17 2 28 1 2000" d="M0 535.5h938"/><path stroke="#e6f0fa" stroke-dasharray="0 7 1 215 1 8 1 9 1 47 1 7 1 82 1 2 1 6 1 4 2 1 1 3 1 1 1 27 1 40 1 30 1 268 1 15 1 18 1 13 1 6 1 1 2 4 3 2000" d="M0 535.5h938"/><path stroke="#e1edf8" stroke-dasharray="0 284 1 101 1 2 1 3 1 1 1 96 1 10 1 288 1 4 1 4 1 4 1 3 1 9 1 3 2 7 2 2000" d="M0 535.5h938"/><path stroke="#dceaf6" stroke-dasharray="0 382 2 1 1 410 1 11 1 13 1 111 1 2000" d="M0 535.5h938"/><path stroke="#d8e7f5" stroke-dasharray="0 392 1 9 1 390 1 1 1 9 1 13 1 4 1 2 1 1 1 7 1 2000" d="M0 535.5h938"/><path stroke="#d4e4f4" stroke-dasharray="0 390 1 106 2 290 1 4 1 33 1 2000" d="M0 535.5h938"/><path stroke="#cfe1f2" stroke-dasharray="0 788 1 9 1 2 1 1 2 1 1 13 1 15 1 2000" d="M0 535.5h938"/><path stroke="#cadef0" stroke-dasharray="0 500 3 274 1 6 3 2000" d="M0 535.5h938"/><path stroke="#c4daee" stroke-dasharray="0 387 2 398 1 2000" d="M0 535.5h938"/><path stroke="#bad4eb" stroke-dasharray="0 499 1 2000" d="M0 535.5h938"/><path stroke="#b5d0e9" stroke-dasharray="0 775 1 6 1 2000" d="M0 535.5h938"/><path stroke="#afcce7" stroke-dasharray="0 799 1 2000" d="M0 535.5h938"/><path stroke="#aac8e4" stroke-dasharray="0 776 1 3 2 2000" d="M0 535.5h938"/><path stroke="#a5c5e2" stroke-dasharray="0 779 1 2000" d="M0 535.5h938"/><path stroke="#9abdde" stroke-dasharray="0 800 1 2000" d="M0 535.5h938"/><path stroke="#94b8db" stroke-dasharray="0 778 1 2000" d="M0 535.5h938"/><path stroke="#8fb3d8" stroke-dasharray="0 783 1 2000" d="M0 535.5h938"/></g><linearGradient id="d21"><stop offset="0" stop-color="#0b225b"/><stop offset="0.07" stop-color="#0b225b"/><stop offset="0.14" stop-color="#0b225b"/><stop offset="0.21" stop-color="#0b225b"/><stop offset="0.29" stop-color="#0c387f"/><stop offset="0.36" stop-color="#5299ca"/><stop offset="0.43" stop-color="#8dbfdd"/><stop offset="0.5" stop-color="#b6d4ea"/><stop offset="0.57" stop-color="#bdd8ed"/><stop offset="0.64" stop-color="#c4dbef"/><stop offset="0.71" stop-color="#cbdff1"/><stop offset="0.79" stop-color="#d2e3f3"/><stop offset="0.86" stop-color="#d7e6f5"/><stop offset="0.93" stop-color="#ddeaf6"/><stop offset="1" stop-color="#e3eef8"/></linearGradient><rect x="905.2" y="523" width="20.8" height="25" fill="url(#d21)"/><g stroke-width="25"><path stroke="#eff6fc" stroke-dasharray="0 4 1 2 1 1 2 1 1 3 3 2 1 10 2 1 1 1 1 1 1 3 2 1 2 3 1 5 2 4 1 13 1 17 1 1 1 6 1 7 1 6 1 15 2 5 1 3 1 11 1 1 2 1 1 4 1 1 2 3 2 3 1 15 1 2 1 5 2 4 1 23 1 2 1 6 2 7 1 4 1 4 1 2 3 3 2 5 1 2 1 2 1 11 1 5 2 2 1 10 1 5 1 2 1 5 1 2 2 2 2 16 4 1 3 5 3 21 2 4 1 1 2 2 1 2 3 2 1 1 1 3 2 5 1 5 1 3 1 6 1 4 2 1 2 16 4 4 2 13 1 2 1 7 3 7 3 7 1 2 1 1 1 12 2 7 3 7 1 5 1 3 1 9 1 3 1 10 1 11 1 2 1 7 1 19 1 10 1 7 1 8 1 19 1 1 1 3 1 13 1 4 1 2 1 1 1 2 2 2 1 4 1 1 1 10 1 6 1 2 6 2 1 9 1 20 1 15 1 1 1 5 1 5 1 2 4 15 1 1 1 2 1 2 2 2 1 4 1 17 3 2 1 4 1 4 4 2 3 6 1 6 1 6 2 4 1 2000" d="M0 560.5h938"/><path stroke="#eaf3fb" stroke-dasharray="0 13 1 104 1 43 1 215 1 9 1 329 1 111 1 12 2 71 1 2000" d="M0 560.5h938"/><path stroke="#e6f0fa" stroke-dasharray="0 45 1 50 1 234 1 2000" d="M0 560.5h938"/><path stroke="#e1edf8" stroke-dasharray="0 329 1 2 1 2000" d="M0 560.5h938"/><path stroke="#d8e7f5" stroke-dasharray="0 330 1 2 1 2000" d="M0 560.5h938"/><path stroke="#cfe1f2" stroke-dasharray="0 380 1 2000" d="M0 560.5h938"/><path stroke="#cadef0" stroke-dasharray="0 379 1 7 1 2000" d="M0 560.5h938"/><path stroke="#bfd7ed" stroke-dasharray="0 384 1 2000" d="M0 560.5h938"/><path stroke="#bad4eb" stroke-dasharray="0 381 1 4 1 2000" d="M0 560.5h938"/><path stroke="#a5c5e2" stroke-dasharray="0 385 1 2000" d="M0 560.5h938"/><path stroke="#83a9d2" stroke-dasharray="0 383 1 2000" d="M0 560.5h938"/><path stroke="#739ac7" stroke-dasharray="0 382 1 2000" d="M0 560.5h938"/></g><linearGradient id="d22"><stop offset="0" stop-color="#0b225b"/><stop offset="0.5" stop-color="#0b225b"/><stop offset="1" stop-color="#0b2d6e"/></linearGradient><rect x="926.1" y="548" width="2.1" height="25" fill="url(#d22)"/><g stroke-width="25"><path stroke="#eff6fc" stroke-dasharray="0 4 1 6 1 1 1 1 1 1 1 2 5 1 1 2 1 1 3 3 1 8 2 2 3 3 5 2 1 1 1 2 2 5 1 1 1 9 1 2 1 3 2 2 3 2 3 2 4 1 2 5 1 9 1 4 1 5 2 1 3 1 1 3 2 5 4 4 2 1 2 2 1 6 2 1 1 1 2 2 4 1 1 5 1 3 1 2 4 2 2 2 1 1 1 3 1 2 2 10 1 2 2 5 1 1 1 2 2 2 1 1 2 6 1 1 8 2 1 1 1 3 1 2 3 4 3 2 3 7 1 1 1 6 1 5 1 1 1 4 1 5 1 4 1 3 4 1 2 6 1 1 3 3 2 1 1 4 1 12 2 8 5 1 3 1 1 4 1 1 4 1 1 2 1 1 1 6 1 3 1 5 1 1 1 8 1 2 1 3 2 7 1 10 1 4 2 1 5 1 5 3 2 1 1 1 2 1 1 1 4 8 8 6 1 1 1 6 2 2 2 1 1 2 6 7 3 2 1 4 1 1 1 2 1 1 1 2 1 1 1 5 3 2 1 1 3 3 1 4 1 1 1 1 1 4 2 6 1 3 2 4 1 7 1 5 1 5 1 4 1 5 1 1 1 2 1 2 3 43 2 7 1 5 1 1 2 2 1 1 2 2 2 7 2 3 2 8 1 3 2 1 2 2 3 3 2 5 1 1 1 1 2 7 1 8 1 2 5 9 4 8 1 1 1 1 1 1 1 1 1 1 1 1 1 4 1 3 1 1 1 2 1 5 3 5 4 1 1 2 1 2 1 9 1 1 1 1 2 1 1 1 1 2000" d="M0 585.5h938"/><path stroke="#eaf3fb" stroke-dasharray="0 16 1 36 3 20 1 35 1 4 1 40 1 24 1 35 1 9 1 20 1 27 2 12 1 7 1 51 1 18 1 23 1 9 1 15 1 13 2 8 1 8 1 6 1 19 1 7 1 51 1 15 2 47 1 3 3 6 1 21 4 19 1 48 1 6 1 8 1 2 1 4 1 2 1 1 2 8 1 2 1 82 1 18 1 9 1 10 1 2000" d="M0 585.5h938"/><path stroke="#e6f0fa" stroke-dasharray="0 12 1 1 1 51 2 79 1 121 1 29 1 62 1 74 1 260 1 6 1 8 1 6 1 3 1 2 1 4 1 22 1 30 1 73 1 58 1 2000" d="M0 585.5h938"/><path stroke="#e1edf8" stroke-dasharray="0 25 1 667 1 5 1 6 1 4 1 6 2 6 1 7 1 1 1 1 1 67 1 58 1 2000" d="M0 585.5h938"/><path stroke="#dceaf6" stroke-dasharray="0 689 1 4 2 16 1 2 2 18 1 5 1 2 1 2000" d="M0 585.5h938"/><path stroke="#d8e7f5" stroke-dasharray="0 687 1 16 1 18 2 2000" d="M0 585.5h938"/><path stroke="#d4e4f4" stroke-dasharray="0 688 1 3 1 24 1 4 1 4 1 2000" d="M0 585.5h938"/><path stroke="#cfe1f2" stroke-dasharray="0 696 1 3 1 2000" d="M0 585.5h938"/><path stroke="#cadef0" stroke-dasharray="0 701 2 4 1 2 1 2000" d="M0 585.5h938"/><path stroke="#c4daee" stroke-dasharray="0 697 1 5 1 4 2 2000" d="M0 585.5h938"/><path stroke="#bfd7ed" stroke-dasharray="0 690 1 2000" d="M0 585.5h938"/><path stroke="#aac8e4" stroke-dasharray="0 691 1 2000" d="M0 585.5h938"/></g><linearGradient id="d23"><stop offset="0" stop-color="#0b225b"/><stop offset="0.17" stop-color="#0b225b"/><stop offset="0.33" stop-color="#144f99"/><stop offset="0.5" stop-color="#599ecc"/><stop offset="0.67" stop-color="#bad6ec"/><stop offset="0.83" stop-color="#ddeaf6"/><stop offset="1" stop-color="#e7f0f9"/></linearGradient><rect x="928.9" y="573" width="8.9" height="25" fill="url(#d23)"/></g>
<g font-size="16"><text x="1095.4" y="88.9">3. Peripheral Nervous System (PNS) I</text><text x="1095.4" y="113.82">24. PNS V</text><text x="1095.4" y="138.73">7. PNS II</text><text x="1095.4" y="163.65">19. PNS IV</text><text x="1095.4" y="188.57">15. PNS III</text><text x="1095.4" y="213.48">8. Epithelial cells I</text><text x="1095.4" y="238.4">23. Epithelial cell II</text><text x="1095.4" y="263.32">9. Adrenocortical Cells</text><text x="1095.4" y="288.23">1. Cardiomyocytes</text><text x="1095.4" y="313.15">11. Hepatoblasts</text><text x="1095.4" y="338.07">17. PNS III</text><text x="1095.4" y="362.98">21. Myocytes II</text><text x="1095.4" y="387.9">5. Stromal I</text><text x="1095.4" y="412.82">6. Myeloid</text><text x="1095.4" y="437.73">10. Erythroblast</text><text x="1095.4" y="462.65">12. Cell Cycle</text><text x="1095.4" y="487.57">22. Lymphocytes</text><text x="1095.4" y="512.48">4. Endothelial</text><text x="1095.4" y="537.4">13. Schwann cell I</text><text x="1095.4" y="562.32">14. Myofibroblasts</text><text x="1095.4" y="587.23">2. Fibroblasts</text><text x="1095.4" y="612.15">20. Stromal II</text><text x="1095.4" y="637.07">16. Myocytes</text><text x="1095.4" y="661.98">18. Schwann cell II</text></g>
<text x="623.0" y="691.9" font-size="17.33" text-anchor="middle">Cells</text>
<text transform="translate(143.2 369.2) rotate(-90)" font-size="17.33" text-anchor="middle">GEPs</text>
<defs><linearGradient id="lg" x1="0" x2="1" y1="0" y2="0"><stop offset="0.000" stop-color="#f5f9fe"/><stop offset="0.065" stop-color="#f5f9fe"/><stop offset="0.118" stop-color="#eaf2fa"/><stop offset="0.171" stop-color="#deebf6"/><stop offset="0.223" stop-color="#d2e3f3"/><stop offset="0.276" stop-color="#c2daee"/><stop offset="0.329" stop-color="#b0d0e8"/><stop offset="0.382" stop-color="#97c4e0"/><stop offset="0.435" stop-color="#7ab3d7"/><stop offset="0.487" stop-color="#5ba0cd"/><stop offset="0.540" stop-color="#438cc4"/><stop offset="0.593" stop-color="#2e77b8"/><stop offset="0.646" stop-color="#1d60a8"/><stop offset="0.699" stop-color="#134d97"/><stop offset="0.752" stop-color="#0d3d86"/><stop offset="0.804" stop-color="#0b3175"/><stop offset="0.857" stop-color="#0b2967"/><stop offset="0.910" stop-color="#0b225b"/><stop offset="1.000" stop-color="#0b225b"/></linearGradient></defs>
<text x="574.2" y="771.9" font-size="13.33" font-weight="bold">Activity Scores</text>
<rect x="574.3" y="778.8" width="47.9" height="15.8" fill="url(#lg)"/>
<path d="M577.4 778.8v4M577.4 791v4M617.9 778.8v4M617.9 791v4" stroke="#fff" stroke-width="1.5"/>
<text x="577.0" y="807.6" font-size="13.33" text-anchor="middle">0</text>
<text x="617.6" y="807.6" font-size="13.33" text-anchor="middle">200</text>
</svg>
</body></html>
